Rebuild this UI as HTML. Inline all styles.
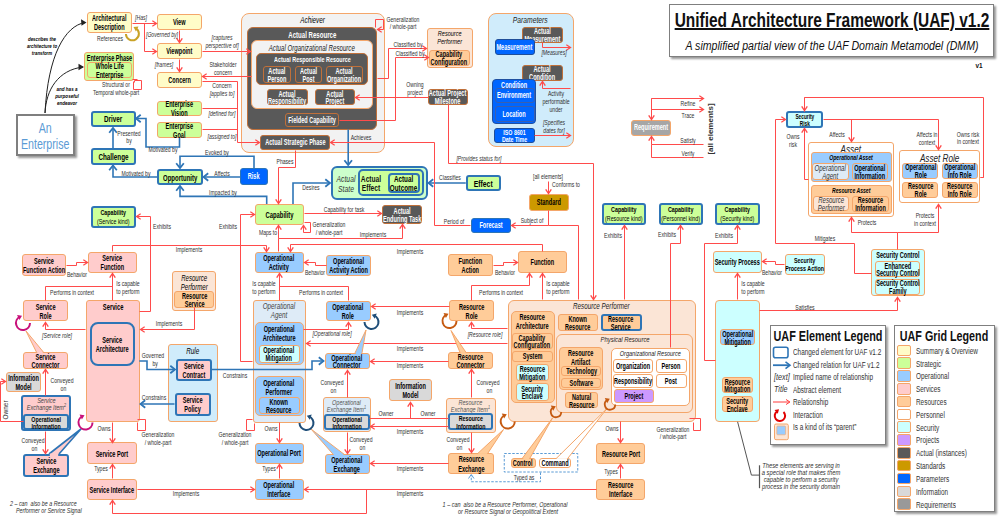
<!DOCTYPE html><html><head><meta charset="utf-8"><style>
*{margin:0;padding:0;box-sizing:border-box}
html,body{width:1002px;height:519px;overflow:hidden;background:#fff;font-family:"Liberation Sans",sans-serif}
.bx{position:absolute;display:flex;justify-content:center;text-align:center;overflow:visible}
.bx>span{display:block;white-space:nowrap;transform-origin:50% 0}
.lb{position:absolute;white-space:nowrap}
svg{position:absolute;left:0;top:0}
</style></head><body>
<div class="bx" style="left:87px;top:12px;width:45px;height:20.5px;background:#FFFCC8;border:1px solid #F4A66A;border-radius:3px;color:#000;align-items:center;"><span style="font-size:8.2px;line-height:1.1;font-weight:bold;font-style:normal;transform:scaleX(0.68);padding-top:2px">Architectural<br>Description</span></div>
<div class="bx" style="left:157px;top:14px;width:45px;height:16px;background:#FFFCC8;border:1px solid #F4A66A;border-radius:3px;color:#000;align-items:center;"><span style="font-size:8.2px;line-height:1.0;font-weight:bold;font-style:normal;transform:scaleX(0.68);padding-top:2px">View</span></div>
<div class="bx" style="left:157px;top:43px;width:45px;height:16px;background:#FFFCC8;border:1px solid #F4A66A;border-radius:3px;color:#000;align-items:center;"><span style="font-size:8.2px;line-height:1.0;font-weight:bold;font-style:normal;transform:scaleX(0.68);padding-top:2px">Viewpoint</span></div>
<div class="bx" style="left:157px;top:72px;width:45px;height:16px;background:#FFFCC8;border:1px solid #F4A66A;border-radius:3px;color:#000;align-items:center;"><span style="font-size:8.2px;line-height:1.0;font-weight:bold;font-style:normal;transform:scaleX(0.68);padding-top:2px">Concern</span></div>
<div class="bx" style="left:84px;top:52px;width:50px;height:29px;background:#CCFF99;border:1px solid #F4A66A;border-radius:3px;color:#000;align-items:flex-start;"><span style="font-size:8.2px;line-height:1.1;font-weight:bold;font-style:normal;transform:scaleX(0.68);padding-top:1px">Enterprise Phase</span></div>
<div class="bx" style="left:87px;top:62px;width:45px;height:16px;background:#CCFF99;border:1px solid #F4A66A;border-radius:3px;color:#000;align-items:center;"><span style="font-size:8.2px;line-height:1.07;font-weight:bold;font-style:normal;transform:scaleX(0.68);padding-top:3.5px">Whole Life<br>Enterprise</span></div>
<div class="bx" style="left:157px;top:101px;width:45px;height:15px;background:#CCFF99;border:1px solid #F4A66A;border-radius:3px;color:#000;align-items:center;"><span style="font-size:8.2px;line-height:1.05;font-weight:bold;font-style:normal;transform:scaleX(0.68);padding-top:3.2px">Enterprise<br>Vision</span></div>
<div class="bx" style="left:157px;top:122px;width:45px;height:16px;background:#CCFF99;border:1px solid #F4A66A;border-radius:3px;color:#000;align-items:center;"><span style="font-size:8.2px;line-height:1.05;font-weight:bold;font-style:normal;transform:scaleX(0.68);padding-top:3.2px">Enterprise<br>Goal</span></div>
<div class="bx" style="left:15.5px;top:114px;width:59px;height:42px;background:#FFFFFF;border:2px solid #7F7F7F;border-radius:0px;color:#5B9BD5;align-items:center;box-shadow:2px 2px 2px #999;"><span style="font-size:15px;line-height:1.1;font-weight:normal;font-style:normal;transform:scaleX(0.71);padding-top:2px">An<br>Enterprise</span></div>
<div class="bx" style="left:90.5px;top:110.5px;width:45px;height:16.5px;background:#CCFF99;border:2px solid #2E75B6;border-radius:3px;color:#000;align-items:center;"><span style="font-size:9px;line-height:1.0;font-weight:bold;font-style:normal;transform:scaleX(0.7);padding-top:2px">Driver</span></div>
<div class="bx" style="left:90.5px;top:148px;width:45px;height:16.5px;background:#CCFF99;border:2px solid #2E75B6;border-radius:3px;color:#000;align-items:center;"><span style="font-size:9px;line-height:1.0;font-weight:bold;font-style:normal;transform:scaleX(0.7);padding-top:2px">Challenge</span></div>
<div class="bx" style="left:157px;top:169px;width:45.5px;height:16px;background:#CCFF99;border:2px solid #2E75B6;border-radius:3px;color:#000;align-items:center;"><span style="font-size:8.8px;line-height:1.0;font-weight:bold;font-style:normal;transform:scaleX(0.68);padding-top:2px">Opportunity</span></div>
<div class="bx" style="left:240px;top:168px;width:28px;height:17px;background:#0066FF;border:1.5px solid #2E75B6;border-radius:3px;color:#fff;align-items:center;"><span style="font-size:8.2px;line-height:1.0;font-weight:bold;font-style:normal;transform:scaleX(0.68);padding-top:2px">Risk</span></div>
<div class="bx" style="left:90.5px;top:205.5px;width:45.25px;height:22px;background:#CCFF99;border:2px solid #2E75B6;border-radius:3px;color:#000;align-items:center;"><span style="font-size:7.6px;line-height:1.1;font-weight:bold;font-style:normal;transform:scaleX(0.7);padding-top:2px">Capability<br><span style="font-weight:normal">(Service kind)</span></span></div>
<div class="bx" style="left:241px;top:13px;width:144px;height:140px;background:#F2F2F2;border:1px solid #F4A66A;border-radius:8px;color:#000;align-items:flex-start;"><span style="font-size:8.5px;line-height:1.1;font-weight:normal;font-style:italic;transform:scaleX(0.74);padding-top:2px">Achiever</span></div>
<div class="bx" style="left:247px;top:27px;width:130px;height:102.5px;background:#595959;border:1px solid #C0703A;border-radius:6px;color:#fff;align-items:flex-start;"><span style="font-size:8.7px;line-height:1.1;font-weight:bold;font-style:normal;transform:scaleX(0.7);padding-top:2.8px">Actual Resource</span></div>
<div class="bx" style="left:251px;top:40px;width:121.5px;height:69px;background:#F2F2F2;border:1px solid #F4A66A;border-radius:6px;color:#222;align-items:flex-start;"><span style="font-size:8.5px;line-height:1.1;font-weight:normal;font-style:italic;transform:scaleX(0.72);padding-top:2.5px">Actual Organizational Resource</span></div>
<div class="bx" style="left:256px;top:53px;width:112px;height:31.5px;background:#595959;border:1px solid #C0703A;border-radius:5px;color:#fff;align-items:flex-start;"><span style="font-size:8px;line-height:1.1;font-weight:bold;font-style:normal;transform:scaleX(0.68);padding-top:2.3px">Actual Responsible Resource</span></div>
<div class="bx" style="left:263px;top:66px;width:27.5px;height:16.5px;background:#595959;border:1px solid #C0703A;border-radius:3px;color:#fff;align-items:center;"><span style="font-size:8.2px;line-height:0.95;font-weight:bold;font-style:normal;transform:scaleX(0.68);padding-top:2.9px">Actual<br>Person</span></div>
<div class="bx" style="left:295px;top:66px;width:27px;height:16.5px;background:#595959;border:1px solid #C0703A;border-radius:3px;color:#fff;align-items:center;"><span style="font-size:8.2px;line-height:0.95;font-weight:bold;font-style:normal;transform:scaleX(0.68);padding-top:2.9px">Actual<br>Post</span></div>
<div class="bx" style="left:326px;top:66px;width:37px;height:16.5px;background:#595959;border:1px solid #C0703A;border-radius:3px;color:#fff;align-items:center;"><span style="font-size:8.2px;line-height:0.95;font-weight:bold;font-style:normal;transform:scaleX(0.68);padding-top:2.9px">Actual<br>Organization</span></div>
<div class="bx" style="left:267px;top:89px;width:40.5px;height:16px;background:#595959;border:1px solid #C0703A;border-radius:3px;color:#fff;align-items:center;"><span style="font-size:8.2px;line-height:0.95;font-weight:bold;font-style:normal;transform:scaleX(0.68);padding-top:2.9px">Actual<br>Responsibility</span></div>
<div class="bx" style="left:314.5px;top:89px;width:40.5px;height:16px;background:#595959;border:1px solid #C0703A;border-radius:3px;color:#fff;align-items:center;"><span style="font-size:8.2px;line-height:0.95;font-weight:bold;font-style:normal;transform:scaleX(0.68);padding-top:2.9px">Actual<br>Project</span></div>
<div class="bx" style="left:284.5px;top:112.5px;width:54.5px;height:14.5px;background:#595959;border:1px solid #C0703A;border-radius:3px;color:#fff;align-items:center;"><span style="font-size:8.2px;line-height:1.0;font-weight:bold;font-style:normal;transform:scaleX(0.68);padding-top:2px">Fielded Capability</span></div>
<div class="bx" style="left:260px;top:135px;width:70px;height:15px;background:#595959;border:1px solid #C0703A;border-radius:3px;color:#fff;align-items:center;"><span style="font-size:8.2px;line-height:1.0;font-weight:bold;font-style:normal;transform:scaleX(0.68);padding-top:2px">Actual Strategic Phase</span></div>
<div class="bx" style="left:427px;top:28px;width:45.5px;height:39.5px;background:#FBE5D6;border:1px solid #F4A66A;border-radius:3px;color:#000;align-items:flex-start;"><span style="font-size:7.5px;line-height:1.1;font-weight:normal;font-style:italic;transform:scaleX(0.74);padding-top:1px">Resource<br>Performer</span></div>
<div class="bx" style="left:429px;top:49.5px;width:40.5px;height:16px;background:#FFCC99;border:1px solid #F4A66A;border-radius:3px;color:#000;align-items:center;"><span style="font-size:8.2px;line-height:0.95;font-weight:bold;font-style:normal;transform:scaleX(0.68);padding-top:2.9px">Capability<br>Configuration</span></div>
<div class="bx" style="left:428px;top:89px;width:40px;height:15.5px;background:#595959;border:1px solid #C0703A;border-radius:3px;color:#fff;align-items:center;"><span style="font-size:8.2px;line-height:0.95;font-weight:bold;font-style:normal;transform:scaleX(0.68);padding-top:2.9px">Actual Project<br>Milestone</span></div>
<div class="bx" style="left:487.5px;top:13px;width:86.5px;height:134px;background:#D0ECFB;border:1px solid #F4A66A;border-radius:8px;color:#222;align-items:flex-start;"><span style="font-size:9px;line-height:1.1;font-weight:normal;font-style:italic;transform:scaleX(0.75);padding-top:2.3px">Parameters</span></div>
<div class="bx" style="left:522px;top:27px;width:40.5px;height:15.5px;background:#595959;border:1px solid #C0703A;border-radius:3px;color:#fff;align-items:center;"><span style="font-size:8.2px;line-height:0.95;font-weight:bold;font-style:normal;transform:scaleX(0.68);padding-top:2.9px">Actual<br>Measurement</span></div>
<div class="bx" style="left:494.5px;top:39px;width:40px;height:16px;background:#0066FF;border:1px solid #1F4E99;border-radius:3px;color:#fff;align-items:center;"><span style="font-size:8.2px;line-height:1.0;font-weight:bold;font-style:normal;transform:scaleX(0.68);padding-top:2px">Measurement</span></div>
<div class="bx" style="left:522px;top:64.5px;width:40.5px;height:16px;background:#595959;border:1px solid #C0703A;border-radius:3px;color:#fff;align-items:center;"><span style="font-size:8.2px;line-height:0.95;font-weight:bold;font-style:normal;transform:scaleX(0.68);padding-top:2.9px">Actual<br>Condition</span></div>
<div class="bx" style="left:492px;top:79px;width:44px;height:45px;background:#0066FF;border:1.5px solid #2050A0;border-radius:4px;color:#fff;align-items:flex-start;"><span style="font-size:8.2px;line-height:1.1;font-weight:bold;font-style:normal;transform:scaleX(0.68);padding-top:1px">Condition</span></div>
<div class="bx" style="left:494.5px;top:87.5px;width:40px;height:15.5px;background:#0066FF;border:1px solid #3A5FAF;border-radius:3px;color:#fff;align-items:center;"><span style="font-size:8.2px;line-height:1.0;font-weight:bold;font-style:normal;transform:scaleX(0.68);padding-top:2px">Environment</span></div>
<div class="bx" style="left:494.5px;top:106px;width:40px;height:16px;background:#0066FF;border:1px solid #3A5FAF;border-radius:3px;color:#fff;align-items:center;"><span style="font-size:8.2px;line-height:1.0;font-weight:bold;font-style:normal;transform:scaleX(0.68);padding-top:2px">Location</span></div>
<div class="bx" style="left:493.75px;top:127.5px;width:40.75px;height:15.75px;background:#0066FF;border:1px solid #1F4E99;border-radius:3px;color:#fff;align-items:center;"><span style="font-size:7.8px;line-height:0.95;font-weight:bold;font-style:normal;transform:scaleX(0.68);padding-top:2px">ISO 8601<br>Date Time</span></div>
<div class="bx" style="left:631px;top:119.5px;width:40px;height:16px;background:#A6A6A6;border:1px solid #F4A66A;border-radius:3px;color:#fff;align-items:center;"><span style="font-size:8.2px;line-height:1.0;font-weight:bold;font-style:normal;transform:scaleX(0.68);padding-top:2px">Requirement</span></div>
<div class="bx" style="left:786px;top:111px;width:37px;height:17px;background:#CCFFFF;border:2px solid #2E75B6;border-radius:3px;color:#000;align-items:center;"><span style="font-size:7px;line-height:0.95;font-weight:bold;font-style:normal;transform:scaleX(0.68);padding-top:2.9px">Security<br>Risk</span></div>
<div class="bx" style="left:808.4px;top:141.7px;width:85.6px;height:74.9px;background:#FFFFFF;border:1px solid #F4A66A;border-radius:3px;color:#222;align-items:flex-start;"><span style="font-size:11px;line-height:1.1;font-weight:normal;font-style:italic;transform:scaleX(0.74);padding-top:0.8px">Asset</span></div>
<div class="bx" style="left:811px;top:152.4px;width:80.6px;height:29.3px;background:#99CCFF;border:1px solid #F4A66A;border-radius:3px;color:#000;align-items:flex-start;"><span style="font-size:7.5px;line-height:1.1;font-weight:bold;font-style:italic;transform:scaleX(0.68);padding-top:1px">Operational Asset</span></div>
<div class="bx" style="left:812.4px;top:163px;width:36.4px;height:16.6px;background:#DEEBF7;border:1px solid #F4A66A;border-radius:3px;color:#333;align-items:center;"><span style="font-size:8.2px;line-height:0.95;font-weight:normal;font-style:italic;transform:scaleX(0.74);padding-top:2.9px">Operational<br>Agent</span></div>
<div class="bx" style="left:851.5px;top:163px;width:36.5px;height:17px;background:#99CCFF;border:1px solid #F4A66A;border-radius:3px;color:#000;align-items:center;"><span style="font-size:8.2px;line-height:0.95;font-weight:bold;font-style:normal;transform:scaleX(0.68);padding-top:2.9px">Operational<br>Information</span></div>
<div class="bx" style="left:811px;top:184.8px;width:80.6px;height:29.2px;background:#FFCC99;border:1px solid #F4A66A;border-radius:3px;color:#000;align-items:flex-start;"><span style="font-size:7.5px;line-height:1.1;font-weight:bold;font-style:italic;transform:scaleX(0.68);padding-top:1px">Resource Asset</span></div>
<div class="bx" style="left:813px;top:195.6px;width:36.4px;height:15.4px;background:#FBE5D6;border:1px solid #F4A66A;border-radius:3px;color:#333;align-items:center;"><span style="font-size:8.2px;line-height:0.95;font-weight:normal;font-style:italic;transform:scaleX(0.74);padding-top:2.9px">Resource<br>Performer</span></div>
<div class="bx" style="left:851.9px;top:195.6px;width:37px;height:16.4px;background:#FFCC99;border:1px solid #F4A66A;border-radius:3px;color:#000;align-items:center;"><span style="font-size:8.2px;line-height:0.95;font-weight:bold;font-style:normal;transform:scaleX(0.68);padding-top:2.9px">Resource<br>Information</span></div>
<div class="bx" style="left:899.3px;top:150.3px;width:81.1px;height:53px;background:#FFFFFF;border:1px solid #F4A66A;border-radius:3px;color:#222;align-items:flex-start;"><span style="font-size:11px;line-height:1.1;font-weight:normal;font-style:italic;transform:scaleX(0.74);padding-top:0.5px">Asset Role</span></div>
<div class="bx" style="left:902.4px;top:162.6px;width:35.8px;height:16px;background:#99CCFF;border:1px solid #F4A66A;border-radius:3px;color:#000;align-items:center;"><span style="font-size:8.2px;line-height:0.95;font-weight:bold;font-style:normal;transform:scaleX(0.68);padding-top:2.9px">Operational<br>Role</span></div>
<div class="bx" style="left:942px;top:162.6px;width:36px;height:16px;background:#99CCFF;border:1px solid #F4A66A;border-radius:3px;color:#000;align-items:center;"><span style="font-size:8.2px;line-height:0.95;font-weight:bold;font-style:normal;transform:scaleX(0.68);padding-top:2.9px">Operational<br>Info Role</span></div>
<div class="bx" style="left:902.4px;top:181.7px;width:35.8px;height:16.1px;background:#FFCC99;border:1px solid #F4A66A;border-radius:3px;color:#000;align-items:center;"><span style="font-size:8.2px;line-height:0.95;font-weight:bold;font-style:normal;transform:scaleX(0.68);padding-top:2.9px">Resource<br>Role</span></div>
<div class="bx" style="left:942px;top:181.7px;width:36px;height:16.1px;background:#FFCC99;border:1px solid #F4A66A;border-radius:3px;color:#000;align-items:center;"><span style="font-size:8.2px;line-height:0.95;font-weight:bold;font-style:normal;transform:scaleX(0.68);padding-top:2.9px">Resource<br>Info Role</span></div>
<div class="bx" style="left:331px;top:165.75px;width:96.5px;height:33.75px;background:#CCFFCC;border:2px solid #2E75B6;border-radius:6px;color:#000;align-items:center;"><span style="font-size:8.2px;line-height:1.1;font-weight:bold;font-style:normal;transform:scaleX(0.68);padding-top:2px"></span></div>
<div class="bx" style="left:357.5px;top:168.75px;width:66.25px;height:26.75px;background:#CCFF99;border:2px solid #2E75B6;border-radius:5px;color:#000;align-items:center;"><span style="font-size:8.2px;line-height:1.1;font-weight:bold;font-style:normal;transform:scaleX(0.68);padding-top:2px"></span></div>
<div class="bx" style="left:387.5px;top:173px;width:32px;height:20px;background:#CCFF99;border:2px solid #2E75B6;border-radius:4px;color:#000;align-items:center;"><span style="font-size:9px;line-height:1.0;font-weight:bold;font-style:normal;transform:scaleX(0.7);padding-top:2.5px">Actual<br>Outcome</span></div>
<div class="bx" style="left:465.75px;top:174.5px;width:35.5px;height:16.75px;background:#CCFF99;border:2px solid #2E75B6;border-radius:3px;color:#000;align-items:center;"><span style="font-size:9.5px;line-height:1.0;font-weight:bold;font-style:normal;transform:scaleX(0.72);padding-top:2px">Effect</span></div>
<div class="bx" style="left:528.75px;top:194.25px;width:40px;height:16.25px;background:#CC9900;border:1px solid #F4A66A;border-radius:3px;color:#000;align-items:center;"><span style="font-size:8.2px;line-height:1.0;font-weight:bold;font-style:normal;transform:scaleX(0.68);padding-top:2px">Standard</span></div>
<div class="bx" style="left:470.75px;top:217.5px;width:39.75px;height:15.75px;background:#0066FF;border:1px solid #2E75B6;border-radius:3px;color:#fff;align-items:center;"><span style="font-size:8.2px;line-height:1.0;font-weight:bold;font-style:normal;transform:scaleX(0.68);padding-top:2px">Forecast</span></div>
<div class="bx" style="left:254.5px;top:203.5px;width:49.5px;height:21.5px;background:#CCFF99;border:1px solid #F4A66A;border-radius:3px;color:#000;align-items:center;"><span style="font-size:8.6px;line-height:1.1;font-weight:bold;font-style:normal;transform:scaleX(0.68);padding-top:2px">Capability</span></div>
<div class="bx" style="left:382px;top:204.6px;width:40.1px;height:19.3px;background:#595959;border:1px solid #C0703A;border-radius:3px;color:#fff;align-items:center;"><span style="font-size:8.2px;line-height:1.0;font-weight:bold;font-style:normal;transform:scaleX(0.68);padding-top:3.2px">Actual<br>Enduring Task</span></div>
<div class="bx" style="left:601.75px;top:202.5px;width:44.5px;height:22px;background:#CCFF99;border:2px solid #2E75B6;border-radius:3px;color:#000;align-items:center;"><span style="font-size:7.6px;line-height:1.1;font-weight:bold;font-style:normal;transform:scaleX(0.7);padding-top:2px">Capability<br><span style="font-weight:normal">(Resource kind)</span></span></div>
<div class="bx" style="left:658.75px;top:202.5px;width:44.25px;height:22px;background:#CCFF99;border:2px solid #2E75B6;border-radius:3px;color:#000;align-items:center;"><span style="font-size:7.6px;line-height:1.1;font-weight:bold;font-style:normal;transform:scaleX(0.7);padding-top:2px">Capability<br><span style="font-weight:normal">(Personnel kind)</span></span></div>
<div class="bx" style="left:715px;top:202.5px;width:44.5px;height:22px;background:#CCFF99;border:2px solid #2E75B6;border-radius:3px;color:#000;align-items:center;"><span style="font-size:7.6px;line-height:1.1;font-weight:bold;font-style:normal;transform:scaleX(0.7);padding-top:2px">Capability<br><span style="font-weight:normal">(Security kind)</span></span></div>
<div class="bx" style="left:712.5px;top:251.25px;width:49.5px;height:21.25px;background:#CCFFFF;border:1px solid #F4A66A;border-radius:3px;color:#000;align-items:center;"><span style="font-size:8.2px;line-height:1.1;font-weight:bold;font-style:normal;transform:scaleX(0.68);padding-top:2px">Security Process</span></div>
<div class="bx" style="left:784.5px;top:253.75px;width:40px;height:21.25px;background:#CCFFFF;border:1px solid #F4A66A;border-radius:3px;color:#000;align-items:center;"><span style="font-size:7.9px;line-height:1.1;font-weight:bold;font-style:normal;transform:scaleX(0.68);padding-top:2px">Security<br>Process Action</span></div>
<div class="bx" style="left:871.25px;top:249.25px;width:53.25px;height:47px;background:#CCFFFF;border:1px solid #F4A66A;border-radius:3px;color:#000;align-items:flex-start;"><span style="font-size:8.2px;line-height:1.1;font-weight:bold;font-style:normal;transform:scaleX(0.68);padding-top:0.5px">Security Control</span></div>
<div class="bx" style="left:875px;top:261.25px;width:45.25px;height:15.5px;background:#CCFFFF;border:1px solid #F4A66A;border-radius:3px;color:#000;align-items:center;"><span style="font-size:8.2px;line-height:0.95;font-weight:bold;font-style:normal;transform:scaleX(0.68);padding-top:2.9px">Enhanced<br>Security Control</span></div>
<div class="bx" style="left:875px;top:278.75px;width:45.25px;height:15.75px;background:#CCFFFF;border:1px solid #F4A66A;border-radius:3px;color:#000;align-items:center;"><span style="font-size:8.2px;line-height:0.95;font-weight:bold;font-style:normal;transform:scaleX(0.68);padding-top:2.9px">Security Control<br>Family</span></div>
<div class="bx" style="left:21.75px;top:254.25px;width:44.5px;height:21.25px;background:#FFCCCC;border:1px solid #F4A66A;border-radius:3px;color:#000;align-items:center;"><span style="font-size:8.2px;line-height:1.1;font-weight:bold;font-style:normal;transform:scaleX(0.68);padding-top:2px">Service<br>Function Action</span></div>
<div class="bx" style="left:87.5px;top:251.75px;width:49.5px;height:21.25px;background:#FFCCCC;border:1px solid #F4A66A;border-radius:3px;color:#000;align-items:center;"><span style="font-size:8.2px;line-height:1.1;font-weight:bold;font-style:normal;transform:scaleX(0.68);padding-top:2px">Service<br>Function</span></div>
<div class="bx" style="left:23px;top:300px;width:44.5px;height:21.25px;background:#FFCCCC;border:1px solid #F4A66A;border-radius:3px;color:#000;align-items:center;"><span style="font-size:8.2px;line-height:1.1;font-weight:bold;font-style:normal;transform:scaleX(0.68);padding-top:2px">Service<br>Role</span></div>
<div class="bx" style="left:86px;top:300px;width:54px;height:122px;background:#FFCCCC;border:1px solid #F4A66A;border-radius:3px;color:#000;align-items:flex-start;"><span style="font-size:8.5px;line-height:1.1;font-weight:bold;font-style:normal;transform:scaleX(0.68);padding-top:1.5px">Service</span></div>
<div class="bx" style="left:90px;top:322px;width:45px;height:43.5px;background:#FFCCCC;border:2px solid #2E75B6;border-radius:8px;color:#000;align-items:center;"><span style="font-size:8.2px;line-height:1.1;font-weight:bold;font-style:normal;transform:scaleX(0.68);padding-top:2px">Service<br>Architecture</span></div>
<div class="bx" style="left:172px;top:270.5px;width:44.25px;height:40px;background:#FBE5D6;border:1px solid #F4A66A;border-radius:3px;color:#000;align-items:flex-start;"><span style="font-size:8.2px;line-height:1.1;font-weight:normal;font-style:italic;transform:scaleX(0.74);padding-top:2px">Resource<br>Performer</span></div>
<div class="bx" style="left:174.25px;top:291.25px;width:40px;height:16.25px;background:#FFCC99;border:1px solid #F4A66A;border-radius:3px;color:#000;align-items:center;"><span style="font-size:8.2px;line-height:0.95;font-weight:bold;font-style:normal;transform:scaleX(0.68);padding-top:2.9px">Resource<br>Service</span></div>
<div class="bx" style="left:23.25px;top:351.75px;width:45px;height:17px;background:#FFCCCC;border:1px solid #F4A66A;border-radius:3px;color:#000;align-items:center;"><span style="font-size:8.2px;line-height:0.95;font-weight:bold;font-style:normal;transform:scaleX(0.68);padding-top:2.9px">Service<br>Connector</span></div>
<div class="bx" style="left:6.25px;top:372px;width:35px;height:20px;background:#D9D9D9;border:1px solid #F4A66A;border-radius:3px;color:#000;align-items:center;"><span style="font-size:8.2px;line-height:1.1;font-weight:bold;font-style:normal;transform:scaleX(0.68);padding-top:2px">Information<br>Model</span></div>
<div class="bx" style="left:21.25px;top:395px;width:50px;height:36.2px;background:#FFCCCC;border:2px solid #2E75B6;border-radius:3px;color:#444;align-items:flex-start;"><span style="font-size:7.5px;line-height:0.95;font-weight:normal;font-style:italic;transform:scaleX(0.74);padding-top:0px">Service<br>Exchange Item<span style="font-size:5px;position:relative;top:-3px">2</span></span></div>
<div class="bx" style="left:23.2px;top:413.7px;width:45.9px;height:16.3px;background:#D9D9D9;border:2px solid #2E75B6;border-radius:3px;color:#000;align-items:center;"><span style="font-size:7.6px;line-height:0.95;font-weight:bold;font-style:normal;transform:scaleX(0.7);padding-top:1.9px">Operational<br>Information</span></div>
<div class="bx" style="left:23.2px;top:453.6px;width:45.4px;height:23.2px;background:#FFCCCC;border:2px solid #2E75B6;border-radius:3px;color:#000;align-items:center;"><span style="font-size:8.2px;line-height:1.1;font-weight:bold;font-style:normal;transform:scaleX(0.68);padding-top:2px">Service<br>Exchange</span></div>
<div class="bx" style="left:87.3px;top:442.4px;width:49.9px;height:21.7px;background:#FFCCCC;border:1px solid #F4A66A;border-radius:3px;color:#000;align-items:center;"><span style="font-size:8.2px;line-height:1.1;font-weight:bold;font-style:normal;transform:scaleX(0.68);padding-top:2px">Service Port</span></div>
<div class="bx" style="left:87.3px;top:478.6px;width:49.9px;height:21.2px;background:#FFCCCC;border:1px solid #F4A66A;border-radius:3px;color:#000;align-items:center;"><span style="font-size:8.2px;line-height:1.1;font-weight:bold;font-style:normal;transform:scaleX(0.68);padding-top:2px">Service Interface</span></div>
<div class="bx" style="left:168px;top:343.75px;width:50px;height:78px;background:#D0ECFB;border:1px solid #F4A66A;border-radius:3px;color:#000;align-items:flex-start;"><span style="font-size:8.5px;line-height:1.1;font-weight:normal;font-style:italic;transform:scaleX(0.74);padding-top:2px">Rule</span></div>
<div class="bx" style="left:175.5px;top:358.75px;width:36.5px;height:21.75px;background:#FFCCCC;border:2px solid #2E75B6;border-radius:3px;color:#000;align-items:center;"><span style="font-size:8.2px;line-height:1.1;font-weight:bold;font-style:normal;transform:scaleX(0.68);padding-top:2px">Service<br>Contract</span></div>
<div class="bx" style="left:174.5px;top:393.25px;width:36.75px;height:22.25px;background:#FFCCCC;border:2px solid #2E75B6;border-radius:3px;color:#000;align-items:center;"><span style="font-size:8.2px;line-height:1.1;font-weight:bold;font-style:normal;transform:scaleX(0.68);padding-top:2px">Service<br>Policy</span></div>
<div class="bx" style="left:254.5px;top:251.75px;width:49.25px;height:20.75px;background:#99CCFF;border:1px solid #F4A66A;border-radius:3px;color:#000;align-items:center;"><span style="font-size:8.2px;line-height:1.1;font-weight:bold;font-style:normal;transform:scaleX(0.68);padding-top:2px">Operational<br>Activity</span></div>
<div class="bx" style="left:326.4px;top:254.5px;width:44.3px;height:21.1px;background:#99CCFF;border:1px solid #F4A66A;border-radius:3px;color:#000;align-items:center;"><span style="font-size:8.2px;line-height:1.1;font-weight:bold;font-style:normal;transform:scaleX(0.68);padding-top:2px">Operational<br>Activity Action</span></div>
<div class="bx" style="left:252.5px;top:300px;width:53.75px;height:122.5px;background:#DEEBF7;border:1px solid #F4A66A;border-radius:3px;color:#444;align-items:flex-start;"><span style="font-size:8.5px;line-height:1.1;font-weight:normal;font-style:italic;transform:scaleX(0.74);padding-top:1px">Operational<br>Agent</span></div>
<div class="bx" style="left:254.5px;top:322px;width:49.25px;height:42.5px;background:#99CCFF;border:1px solid #F4A66A;border-radius:5px;color:#000;align-items:flex-start;"><span style="font-size:8.2px;line-height:1.1;font-weight:bold;font-style:normal;transform:scaleX(0.68);padding-top:2px">Operational<br>Architecture</span></div>
<div class="bx" style="left:258.75px;top:345px;width:40.75px;height:17.5px;background:#CCFFFF;border:1px solid #F4A66A;border-radius:3px;color:#000;align-items:center;"><span style="font-size:8.2px;line-height:0.95;font-weight:bold;font-style:normal;transform:scaleX(0.68);padding-top:2.9px">Operational<br>Mitigation</span></div>
<div class="bx" style="left:254.5px;top:376.25px;width:49.25px;height:39.5px;background:#99CCFF;border:1px solid #F4A66A;border-radius:5px;color:#000;align-items:flex-start;"><span style="font-size:8.2px;line-height:1.1;font-weight:bold;font-style:normal;transform:scaleX(0.68);padding-top:2px">Operational<br>Performer</span></div>
<div class="bx" style="left:258.75px;top:397px;width:40.75px;height:16.75px;background:#99CCFF;border:1px solid #F4A66A;border-radius:3px;color:#000;align-items:center;"><span style="font-size:8.2px;line-height:0.95;font-weight:bold;font-style:normal;transform:scaleX(0.68);padding-top:2.9px">Known<br>Resource</span></div>
<div class="bx" style="left:325.5px;top:300.5px;width:45px;height:20.75px;background:#99CCFF;border:1px solid #F4A66A;border-radius:3px;color:#000;align-items:center;"><span style="font-size:8.2px;line-height:1.1;font-weight:bold;font-style:normal;transform:scaleX(0.68);padding-top:2px">Operational<br>Role</span></div>
<div class="bx" style="left:324.5px;top:352.5px;width:45px;height:16.75px;background:#99CCFF;border:1px solid #F4A66A;border-radius:3px;color:#000;align-items:center;"><span style="font-size:8.2px;line-height:0.95;font-weight:bold;font-style:normal;transform:scaleX(0.68);padding-top:2.9px">Operational<br>Connector</span></div>
<div class="bx" style="left:322.5px;top:397px;width:48.75px;height:35px;background:#DEEBF7;border:1px solid #F4A66A;border-radius:3px;color:#555;align-items:flex-start;"><span style="font-size:7.5px;line-height:0.95;font-weight:normal;font-style:italic;transform:scaleX(0.74);padding-top:0.5px">Operational<br>Exchange Item<span style="font-size:5px;position:relative;top:-3px">1</span></span></div>
<div class="bx" style="left:324.25px;top:413.75px;width:45.25px;height:16.25px;background:#D9D9D9;border:2px solid #2E75B6;border-radius:3px;color:#000;align-items:center;"><span style="font-size:7.6px;line-height:0.95;font-weight:bold;font-style:normal;transform:scaleX(0.7);padding-top:1.9px">Operational<br>Information</span></div>
<div class="bx" style="left:388.75px;top:379.25px;width:43.25px;height:22px;background:#D9D9D9;border:1px solid #F4A66A;border-radius:3px;color:#000;align-items:center;"><span style="font-size:8.2px;line-height:1.1;font-weight:bold;font-style:normal;transform:scaleX(0.68);padding-top:2px">Information<br>Model</span></div>
<div class="bx" style="left:254.5px;top:442.5px;width:49.25px;height:21px;background:#99CCFF;border:1px solid #F4A66A;border-radius:3px;color:#000;align-items:center;"><span style="font-size:8.2px;line-height:1.1;font-weight:bold;font-style:normal;transform:scaleX(0.68);padding-top:2px">Operational Port</span></div>
<div class="bx" style="left:324.5px;top:453.75px;width:45px;height:20.25px;background:#99CCFF;border:1px solid #F4A66A;border-radius:3px;color:#000;align-items:center;"><span style="font-size:8.2px;line-height:1.1;font-weight:bold;font-style:normal;transform:scaleX(0.68);padding-top:2px">Operational<br>Exchange</span></div>
<div class="bx" style="left:254.5px;top:478.6px;width:49px;height:21.2px;background:#99CCFF;border:1px solid #F4A66A;border-radius:3px;color:#000;align-items:center;"><span style="font-size:8.2px;line-height:1.1;font-weight:bold;font-style:normal;transform:scaleX(0.68);padding-top:2px">Operational<br>Interface</span></div>
<div class="bx" style="left:448px;top:254.25px;width:45.25px;height:21.25px;background:#FFCC99;border:1px solid #F4A66A;border-radius:3px;color:#000;align-items:center;"><span style="font-size:8.2px;line-height:1.1;font-weight:bold;font-style:normal;transform:scaleX(0.68);padding-top:2px">Function<br>Action</span></div>
<div class="bx" style="left:517.5px;top:251.25px;width:49.5px;height:21.25px;background:#FFCC99;border:1px solid #F4A66A;border-radius:3px;color:#000;align-items:center;"><span style="font-size:8.2px;line-height:1.1;font-weight:bold;font-style:normal;transform:scaleX(0.68);padding-top:2px">Function</span></div>
<div class="bx" style="left:449.25px;top:300px;width:45px;height:21.25px;background:#FFCC99;border:1px solid #F4A66A;border-radius:3px;color:#000;align-items:center;"><span style="font-size:8.2px;line-height:1.1;font-weight:bold;font-style:normal;transform:scaleX(0.68);padding-top:2px">Resource<br>Role</span></div>
<div class="bx" style="left:448.25px;top:352px;width:45px;height:16.75px;background:#FFCC99;border:1px solid #F4A66A;border-radius:3px;color:#000;align-items:center;"><span style="font-size:8.2px;line-height:0.95;font-weight:bold;font-style:normal;transform:scaleX(0.68);padding-top:2.9px">Resource<br>Connector</span></div>
<div class="bx" style="left:446.25px;top:397.5px;width:49.25px;height:35px;background:#FBE5D6;border:1px solid #F4A66A;border-radius:3px;color:#555;align-items:flex-start;"><span style="font-size:7.5px;line-height:0.95;font-weight:normal;font-style:italic;transform:scaleX(0.74);padding-top:0.5px">Resource<br>Exchange Item<span style="font-size:5px;position:relative;top:-3px">1</span></span></div>
<div class="bx" style="left:448px;top:413.25px;width:45.25px;height:16.75px;background:#D9D9D9;border:2px solid #2E75B6;border-radius:3px;color:#000;align-items:center;"><span style="font-size:7.6px;line-height:0.95;font-weight:bold;font-style:normal;transform:scaleX(0.7);padding-top:1.9px">Resource<br>Information</span></div>
<div class="bx" style="left:448.25px;top:453.25px;width:46px;height:20.5px;background:#FFCC99;border:1px solid #F4A66A;border-radius:3px;color:#000;align-items:center;"><span style="font-size:8.2px;line-height:1.1;font-weight:bold;font-style:normal;transform:scaleX(0.68);padding-top:2px">Resource<br>Exchange</span></div>
<div class="bx" style="left:507.5px;top:299.5px;width:188px;height:122.25px;background:#FBE5D6;border:1px solid #F4A66A;border-radius:6px;color:#222;align-items:flex-start;"><span style="font-size:8.5px;line-height:1.1;font-weight:normal;font-style:italic;transform:scaleX(0.74);padding-top:1px">Resource Performer</span></div>
<div class="bx" style="left:510.5px;top:310.5px;width:44px;height:92px;background:#FFCC99;border:1px solid #F4A66A;border-radius:5px;color:#000;align-items:flex-start;"><span style="font-size:8.2px;line-height:1.1;font-weight:bold;font-style:normal;transform:scaleX(0.68);padding-top:1px">Resource<br>Architecture</span></div>
<div class="bx" style="left:512px;top:332.5px;width:40.5px;height:16.75px;background:#FFCC99;border:1px solid #F4A66A;border-radius:3px;color:#000;align-items:center;"><span style="font-size:8.2px;line-height:0.95;font-weight:bold;font-style:normal;transform:scaleX(0.68);padding-top:2.9px">Capability<br>Configuration</span></div>
<div class="bx" style="left:512px;top:351.25px;width:40.5px;height:10.5px;background:#FFCC99;border:1px solid #F4A66A;border-radius:3px;color:#000;align-items:center;"><span style="font-size:8.2px;line-height:1.0;font-weight:bold;font-style:normal;transform:scaleX(0.68);padding-top:2px">System</span></div>
<div class="bx" style="left:515.5px;top:364.25px;width:33.25px;height:17px;background:#CCFFFF;border:1px solid #F4A66A;border-radius:3px;color:#000;align-items:center;"><span style="font-size:8.2px;line-height:0.95;font-weight:bold;font-style:normal;transform:scaleX(0.68);padding-top:2.9px">Resource<br>Mitigation</span></div>
<div class="bx" style="left:515.5px;top:383.25px;width:33.25px;height:17.25px;background:#CCFFFF;border:1px solid #F4A66A;border-radius:3px;color:#000;align-items:center;"><span style="font-size:8.2px;line-height:0.95;font-weight:bold;font-style:normal;transform:scaleX(0.68);padding-top:2.9px">Security<br>Enclave</span></div>
<div class="bx" style="left:557.5px;top:313.75px;width:40.5px;height:16.75px;background:#FFCC99;border:1px solid #F4A66A;border-radius:3px;color:#000;align-items:center;"><span style="font-size:8.2px;line-height:0.95;font-weight:bold;font-style:normal;transform:scaleX(0.68);padding-top:2.9px">Known<br>Resource</span></div>
<div class="bx" style="left:600.5px;top:313.75px;width:41.25px;height:16.75px;background:#FFCC99;border:2px solid #2E75B6;border-radius:3px;color:#000;align-items:center;"><span style="font-size:8.2px;line-height:0.95;font-weight:bold;font-style:normal;transform:scaleX(0.68);padding-top:2.9px">Resource<br>Service</span></div>
<div class="bx" style="left:556.25px;top:334.25px;width:136.75px;height:78.75px;background:#FBE5D6;border:1px solid #F4A66A;border-radius:6px;color:#222;align-items:flex-start;"><span style="font-size:8px;line-height:1.1;font-weight:normal;font-style:italic;transform:scaleX(0.74);padding-top:1px">Physical Resource</span></div>
<div class="bx" style="left:559.25px;top:347px;width:43.75px;height:43px;background:#FFCC99;border:1px solid #F4A66A;border-radius:4px;color:#000;align-items:flex-start;"><span style="font-size:8.2px;line-height:1.1;font-weight:bold;font-style:normal;transform:scaleX(0.68);padding-top:1px">Resource<br>Artifact</span></div>
<div class="bx" style="left:561.25px;top:365.75px;width:40px;height:10.5px;background:#FFCC99;border:1px solid #F4A66A;border-radius:3px;color:#000;align-items:center;"><span style="font-size:8.2px;line-height:1.0;font-weight:bold;font-style:normal;transform:scaleX(0.68);padding-top:2px">Technology</span></div>
<div class="bx" style="left:561.25px;top:377.5px;width:40px;height:10.5px;background:#FFCC99;border:1px solid #F4A66A;border-radius:3px;color:#000;align-items:center;"><span style="font-size:8.2px;line-height:1.0;font-weight:bold;font-style:normal;transform:scaleX(0.68);padding-top:2px">Software</span></div>
<div class="bx" style="left:565px;top:392px;width:32.5px;height:16.25px;background:#FFCC99;border:1px solid #F4A66A;border-radius:3px;color:#000;align-items:center;"><span style="font-size:8.2px;line-height:0.95;font-weight:bold;font-style:normal;transform:scaleX(0.68);padding-top:2.9px">Natural<br>Resource</span></div>
<div class="bx" style="left:610.5px;top:347.5px;width:79px;height:58px;background:#FFFFFF;border:1px solid #F4A66A;border-radius:5px;color:#222;align-items:flex-start;"><span style="font-size:7.5px;line-height:1.1;font-weight:normal;font-style:italic;transform:scaleX(0.74);padding-top:1px">Organizational Resource</span></div>
<div class="bx" style="left:613px;top:358.75px;width:40px;height:13.75px;background:#FFFFFF;border:1px solid #F4A66A;border-radius:3px;color:#000;align-items:center;"><span style="font-size:8.2px;line-height:1.0;font-weight:bold;font-style:normal;transform:scaleX(0.68);padding-top:2px">Organization</span></div>
<div class="bx" style="left:655.5px;top:358.75px;width:31.5px;height:13.75px;background:#FFFFFF;border:1px solid #F4A66A;border-radius:3px;color:#000;align-items:center;"><span style="font-size:8.2px;line-height:1.0;font-weight:bold;font-style:normal;transform:scaleX(0.68);padding-top:2px">Person</span></div>
<div class="bx" style="left:613px;top:374.25px;width:40px;height:13.75px;background:#FFFFFF;border:1px solid #F4A66A;border-radius:3px;color:#000;align-items:center;"><span style="font-size:8.2px;line-height:1.0;font-weight:bold;font-style:normal;transform:scaleX(0.68);padding-top:2px">Responsibility</span></div>
<div class="bx" style="left:655.5px;top:374.25px;width:31.5px;height:13.75px;background:#FFFFFF;border:1px solid #F4A66A;border-radius:3px;color:#000;align-items:center;"><span style="font-size:8.2px;line-height:1.0;font-weight:bold;font-style:normal;transform:scaleX(0.68);padding-top:2px">Post</span></div>
<div class="bx" style="left:613.75px;top:389.25px;width:40px;height:13.75px;background:#CC99FF;border:1px solid #F4A66A;border-radius:3px;color:#000;align-items:center;"><span style="font-size:8.2px;line-height:1.0;font-weight:bold;font-style:normal;transform:scaleX(0.68);padding-top:2px">Project</span></div>
<div class="bx" style="left:510.5px;top:457.5px;width:25px;height:10.75px;background:#FFCC99;border:1px solid #F4A66A;border-radius:3px;color:#000;align-items:center;"><span style="font-size:8.2px;line-height:1.0;font-weight:bold;font-style:normal;transform:scaleX(0.68);padding-top:2px">Control</span></div>
<div class="bx" style="left:539.25px;top:458.25px;width:32px;height:10px;background:#FFFFFF;border:1px solid #F4A66A;border-radius:3px;color:#000;align-items:center;"><span style="font-size:8.2px;line-height:1.0;font-weight:bold;font-style:normal;transform:scaleX(0.68);padding-top:2px">Command</span></div>
<div class="bx" style="left:596.4px;top:442.7px;width:48.9px;height:21px;background:#FFCC99;border:1px solid #F4A66A;border-radius:3px;color:#000;align-items:center;"><span style="font-size:8.2px;line-height:1.1;font-weight:bold;font-style:normal;transform:scaleX(0.68);padding-top:2px">Resource Port</span></div>
<div class="bx" style="left:596.4px;top:478.7px;width:48.9px;height:20.9px;background:#FFCC99;border:1px solid #F4A66A;border-radius:3px;color:#000;align-items:center;"><span style="font-size:8.2px;line-height:1.1;font-weight:bold;font-style:normal;transform:scaleX(0.68);padding-top:2px">Resource<br>Interface</span></div>
<div class="bx" style="left:715px;top:299.7px;width:44.8px;height:122px;background:#CCFFFF;border:1px solid #F4A66A;border-radius:4px;color:#000;align-items:center;"><span style="font-size:8.2px;line-height:1.1;font-weight:bold;font-style:normal;transform:scaleX(0.68);padding-top:2px"></span></div>
<div class="bx" style="left:719.9px;top:329.2px;width:35.6px;height:15.9px;background:#99CCFF;border:1px solid #F4A66A;border-radius:3px;color:#000;align-items:center;"><span style="font-size:8.2px;line-height:0.95;font-weight:bold;font-style:normal;transform:scaleX(0.68);padding-top:2.9px">Operational<br>Mitigation</span></div>
<div class="bx" style="left:721.6px;top:376.9px;width:31.5px;height:15.9px;background:#FFCC99;border:1px solid #F4A66A;border-radius:3px;color:#000;align-items:center;"><span style="font-size:8.2px;line-height:0.95;font-weight:bold;font-style:normal;transform:scaleX(0.68);padding-top:2.9px">Resource<br>Mitigation</span></div>
<div class="bx" style="left:721.6px;top:395.7px;width:31.5px;height:16.8px;background:#FFCC99;border:1px solid #F4A66A;border-radius:3px;color:#000;align-items:center;"><span style="font-size:8.2px;line-height:0.95;font-weight:bold;font-style:normal;transform:scaleX(0.68);padding-top:2.9px">Security<br>Enclave</span></div>
<div class="bx" style="left:669px;top:4.3px;width:325px;height:52.7px;background:#FFFFFF;border:1.5px solid #7F7F7F;border-radius:0px;color:#000;align-items:center;box-shadow:2px 2px 2px #999;"><span style="font-size:8.2px;line-height:1.1;font-weight:bold;font-style:normal;transform:scaleX(0.68);padding-top:2px"></span></div>
<div class="bx" style="left:769.6px;top:324.6px;width:116.2px;height:120.1px;background:#FFFFFF;border:1.5px solid #7F7F7F;border-radius:0px;color:#000;align-items:center;box-shadow:2px 2px 2px #999;"><span style="font-size:8.2px;line-height:1.1;font-weight:bold;font-style:normal;transform:scaleX(0.68);padding-top:2px"></span></div>
<div class="bx" style="left:894.3px;top:324.6px;width:100.5px;height:187.2px;background:#FFFFFF;border:1.5px solid #7F7F7F;border-radius:0px;color:#000;align-items:center;box-shadow:2px 2px 2px #999;"><span style="font-size:8.2px;line-height:1.1;font-weight:bold;font-style:normal;transform:scaleX(0.68);padding-top:2px"></span></div>
<svg width="1002" height="519" viewBox="0 0 1002 519">
<defs>
<marker id="ar" markerWidth="8" markerHeight="8" refX="4.6" refY="3.5" orient="auto" markerUnits="userSpaceOnUse"><path d="M0.4,0.7 L4.6,3.5 L0.4,6.3" fill="none" stroke="#FF4B4B" stroke-width="1.3"/></marker>
<marker id="ab" markerWidth="10" markerHeight="10" refX="6" refY="5" orient="auto" markerUnits="userSpaceOnUse"><path d="M1.3,1.2 L6,5 L1.3,8.8" fill="none" stroke="#2E75B6" stroke-width="1.8"/></marker>
<marker id="ak" markerWidth="8" markerHeight="8" refX="6" refY="4" orient="auto" markerUnits="userSpaceOnUse"><path d="M0.5,0.8 L6,4 L0.5,7.2" fill="none" stroke="#000" stroke-width="1"/></marker>
</defs>
<polyline points="132.5,23.5 156.5,23.5" fill="none" stroke="#FF4B4B" stroke-width="1" marker-end="url(#ar)"/>
<polyline points="144.5,23.5 144.5,51.5 156.5,51.5" fill="none" stroke="#FF4B4B" stroke-width="1" marker-end="url(#ar)"/>
<polyline points="179.5,30.5 179.5,42.5" fill="none" stroke="#FF4B4B" stroke-width="1" marker-end="url(#ar)"/>
<polyline points="179.5,59.5 179.5,71.5" fill="none" stroke="#FF4B4B" stroke-width="1" marker-end="url(#ar)"/>
<polyline points="202.5,51.5 250.5,51.5" fill="none" stroke="#FF4B4B" stroke-width="1" marker-end="url(#ar)"/>
<polyline points="251.5,76.5 202.5,76.5" fill="none" stroke="#FF4B4B" stroke-width="1" marker-end="url(#ar)"/>
<polyline points="202.5,81.5 237.5,81.5 237.5,142.5 259.5,142.5" fill="none" stroke="#FF4B4B" stroke-width="1" marker-end="url(#ar)"/>
<polyline points="202.5,108.5 237.5,108.5" fill="none" stroke="#FF4B4B" stroke-width="1"/>
<polyline points="202.5,129.5 237.5,129.5" fill="none" stroke="#FF4B4B" stroke-width="1"/>
<polyline points="179.5,138 179.5,147 146,147 146,118.5 136,118.5" fill="none" stroke="#2E75B6" stroke-width="1.6" marker-end="url(#ab)"/>
<polyline points="113,148 113,128" fill="none" stroke="#2E75B6" stroke-width="1.6" marker-end="url(#ab)"/>
<polyline points="157,177 113,177 113,165.5" fill="none" stroke="#2E75B6" stroke-width="1.6" marker-end="url(#ab)"/>
<polyline points="240,177 203.5,177" fill="none" stroke="#2E75B6" stroke-width="1.6" marker-end="url(#ab)"/>
<polyline points="254,168 254,156.3 180,156.3 180,168" fill="none" stroke="#2E75B6" stroke-width="1.6" marker-end="url(#ab)"/>
<polyline points="266.7,204 266.7,196.4 180,196.4 180,186" fill="none" stroke="#2E75B6" stroke-width="1.6" marker-end="url(#ab)"/>
<polyline points="293,204 293,183 330,183" fill="none" stroke="#2E75B6" stroke-width="1.6" marker-end="url(#ab)"/>
<polyline points="348.2,129.5 348.2,165" fill="none" stroke="#2E75B6" stroke-width="1.6" marker-end="url(#ab)"/>
<polyline points="465.75,183 428.5,183" fill="none" stroke="#2E75B6" stroke-width="1.6" marker-end="url(#ab)"/>
<polyline points="377.5,78.5 388.5,78.5 388.5,48.5 426.5,48.5" fill="none" stroke="#FF4B4B" stroke-width="1" marker-end="url(#ar)"/>
<polyline points="339.5,120.5 395.5,120.5 395.5,57.5 428.5,57.5" fill="none" stroke="#FF4B4B" stroke-width="1" marker-end="url(#ar)"/>
<polyline points="428.5,97.5 355.5,97.5" fill="none" stroke="#FF4B4B" stroke-width="1" marker-end="url(#ar)"/>
<polyline points="448.5,104.5 448.5,163.5 593.5,163.5 593.5,299.5" fill="none" stroke="#FF4B4B" stroke-width="1" marker-end="url(#ar)"/>
<polyline points="470.5,225.5 434.5,225.5 434.5,142.5 330.5,142.5" fill="none" stroke="#FF4B4B" stroke-width="1" marker-end="url(#ar)"/>
<polyline points="375.5,27.5 375.5,19.5 383.5,19.5 383.5,29.5 377.5,29.5" fill="none" stroke="#FF4B4B" stroke-width="1" marker-end="url(#ar)"/>
<polyline points="295.5,150.5 295.5,167.5 278.5,167.5 278.5,203.5" fill="none" stroke="#FF4B4B" stroke-width="1" marker-end="url(#ar)"/>
<polyline points="304.5,213.5 381.5,213.5" fill="none" stroke="#FF4B4B" stroke-width="1" marker-end="url(#ar)"/>
<polyline points="304.5,222.5 310.5,222.5 310.5,232.5 303.5,232.5 303.5,225.5" fill="none" stroke="#FF4B4B" stroke-width="1" marker-end="url(#ar)"/>
<polyline points="278.5,251.5 278.5,238.5 402.5,238.5 402.5,224.5" fill="none" stroke="#FF4B4B" stroke-width="1" marker-end="url(#ar)"/>
<polyline points="278.5,238.5 278.5,225.5" fill="none" stroke="#FF4B4B" stroke-width="1" marker-end="url(#ar)"/>
<polyline points="542.5,251.5 542.5,244.5 290.5,244.5 290.5,251.5" fill="none" stroke="#FF4B4B" stroke-width="1" marker-end="url(#ar)"/>
<polyline points="112.5,251.5 112.5,245.5 266.5,245.5 266.5,251.5" fill="none" stroke="#FF4B4B" stroke-width="1" marker-end="url(#ar)"/>
<polyline points="150.5,311.5 150.5,216.5 136.5,216.5" fill="none" stroke="#FF4B4B" stroke-width="1" marker-end="url(#ar)"/>
<polyline points="139.5,311.5 150.5,311.5" fill="none" stroke="#FF4B4B" stroke-width="1"/>
<polyline points="252.5,361.5 240.5,361.5 240.5,214.5 254.5,214.5" fill="none" stroke="#FF4B4B" stroke-width="1" marker-end="url(#ar)"/>
<polyline points="542.5,42.5 542.5,47.5 570.5,47.5" fill="none" stroke="#FF4B4B" stroke-width="1" marker-end="url(#ar)"/>
<polyline points="570.5,88.5 542.5,88.5 542.5,81.5" fill="none" stroke="#FF4B4B" stroke-width="1" marker-end="url(#ar)"/>
<polyline points="534.5,135.5 570.5,135.5" fill="none" stroke="#FF4B4B" stroke-width="1" marker-end="url(#ar)"/>
<polyline points="703.5,98.5 651.5,98.5 651.5,119.5" fill="none" stroke="#FF4B4B" stroke-width="1" marker-end="url(#ar)"/>
<polyline points="651.5,98.5 651.5,98.5" fill="none" stroke="#FF4B4B" stroke-width="1"/>
<polyline points="651.5,109.5 703.5,109.5" fill="none" stroke="#FF4B4B" stroke-width="1" marker-end="url(#ar)"/>
<polyline points="651.5,98.5 703.5,98.5" fill="none" stroke="#FF4B4B" stroke-width="1" marker-end="url(#ar)"/>
<polyline points="703.5,144.5 651.5,144.5 651.5,136.5" fill="none" stroke="#FF4B4B" stroke-width="1" marker-end="url(#ar)"/>
<polyline points="703.5,157.5 651.5,157.5 651.5,144.5" fill="none" stroke="#FF4B4B" stroke-width="1"/>
<polyline points="548.5,181.5 548.5,193.5" fill="none" stroke="#FF4B4B" stroke-width="1" marker-end="url(#ar)"/>
<polyline points="548.5,210.5 548.5,225.5 511.5,225.5" fill="none" stroke="#FF4B4B" stroke-width="1" marker-end="url(#ar)"/>
<polyline points="578.5,299.5 578.5,225.5 548.5,225.5" fill="none" stroke="#FF4B4B" stroke-width="1"/>
<polyline points="624.5,299.5 624.5,225.5" fill="none" stroke="#FF4B4B" stroke-width="1" marker-end="url(#ar)"/>
<polyline points="670.5,347.5 670.5,243.5 680.5,243.5 680.5,225.5" fill="none" stroke="#FF4B4B" stroke-width="1" marker-end="url(#ar)"/>
<polyline points="715.5,360.5 704.5,360.5 704.5,243.5 737.5,243.5 737.5,225.5" fill="none" stroke="#FF4B4B" stroke-width="1" marker-end="url(#ar)"/>
<polyline points="737.5,299.5 737.5,273.5" fill="none" stroke="#FF4B4B" stroke-width="1" marker-end="url(#ar)"/>
<polyline points="784.5,264.5 775.5,264.5 775.5,261.5 762.5,261.5" fill="none" stroke="#FF4B4B" stroke-width="1" marker-end="url(#ar)"/>
<polyline points="759.5,310.5 897.5,310.5 897.5,297.5" fill="none" stroke="#FF4B4B" stroke-width="1" marker-end="url(#ar)"/>
<polyline points="871.5,273.5 854.5,273.5 854.5,243.5 775.5,243.5 775.5,119.5 785.5,119.5" fill="none" stroke="#FF4B4B" stroke-width="1" marker-end="url(#ar)"/>
<polyline points="897.5,249.5 897.5,232.5 851.5,232.5 851.5,217.5" fill="none" stroke="#FF4B4B" stroke-width="1" marker-end="url(#ar)"/>
<polyline points="897.5,232.5 938.5,232.5 938.5,204.5" fill="none" stroke="#FF4B4B" stroke-width="1" marker-end="url(#ar)"/>
<polyline points="804.5,111.5 804.5,97.5 983.5,97.5 983.5,177.5 980.5,177.5" fill="none" stroke="#FF4B4B" stroke-width="1"/>
<polyline points="804.5,97.5 804.5,110.5" fill="none" stroke="#FF4B4B" stroke-width="1" marker-end="url(#ar)"/>
<polyline points="823.5,119.5 938.5,119.5 938.5,149.5" fill="none" stroke="#FF4B4B" stroke-width="1" marker-end="url(#ar)"/>
<polyline points="851.5,119.5 851.5,141.5" fill="none" stroke="#FF4B4B" stroke-width="1" marker-end="url(#ar)"/>
<polyline points="808.5,179.5 804.5,179.5 804.5,128.5" fill="none" stroke="#FF4B4B" stroke-width="1" marker-end="url(#ar)"/>
<polyline points="983.5,177.5 980.5,177.5" fill="none" stroke="#FF4B4B" stroke-width="1"/>
<polyline points="66.5,265.5 76.5,265.5 76.5,262.5 87.5,262.5" fill="none" stroke="#FF4B4B" stroke-width="1" marker-end="url(#ar)"/>
<polyline points="112.5,300.5 112.5,273.5" fill="none" stroke="#FF4B4B" stroke-width="1" marker-end="url(#ar)"/>
<polyline points="45.5,300.5 45.5,286.5 112.5,286.5" fill="none" stroke="#FF4B4B" stroke-width="1"/>
<polyline points="194.5,307.5 194.5,329.5 140.5,329.5" fill="none" stroke="#FF4B4B" stroke-width="1" marker-end="url(#ar)"/>
<polyline points="85.5,329.5 45.5,329.5 45.5,322.5" fill="none" stroke="#FF4B4B" stroke-width="1" marker-end="url(#ar)"/>
<polyline points="45.5,395.5 45.5,369.5" fill="none" stroke="#FF4B4B" stroke-width="1" marker-end="url(#ar)"/>
<polyline points="23.5,421.5 0.5,421.5 0.5,381.5 5.5,381.5" fill="none" stroke="#FF4B4B" stroke-width="1" marker-end="url(#ar)"/>
<polyline points="45.5,431.5 45.5,453.5" fill="none" stroke="#FF4B4B" stroke-width="1" marker-end="url(#ar)"/>
<polyline points="139.25,361 147,361 147,369.5 175,369.5" fill="none" stroke="#2E75B6" stroke-width="1.6" marker-end="url(#ab)"/>
<polyline points="174.5,404 140.5,404" fill="none" stroke="#2E75B6" stroke-width="1.6" marker-end="url(#ab)"/>
<polyline points="212,369.5 312,369.5 312,361 323.5,361" fill="none" stroke="#2E75B6" stroke-width="1.6" marker-end="url(#ab)"/>
<polyline points="112.5,422.5 112.5,442.5" fill="none" stroke="#FF4B4B" stroke-width="1" marker-end="url(#ar)"/>
<polyline points="112.5,478.5 112.5,464.5" fill="none" stroke="#FF4B4B" stroke-width="1" marker-end="url(#ar)"/>
<polyline points="137.5,419.5 145.5,419.5 145.5,430.5 137.5,430.5 137.5,422.5" fill="none" stroke="#FF4B4B" stroke-width="1"/>
<polyline points="137.5,489.5 254.5,489.5" fill="none" stroke="#FF4B4B" stroke-width="1" marker-end="url(#ar)"/>
<polyline points="366.5,489.5 366.5,513.5 112.5,513.5 112.5,500.5" fill="none" stroke="#FF4B4B" stroke-width="1" marker-end="url(#ar)"/>
<polyline points="326.5,265.5 315.5,265.5 315.5,262.5 304.5,262.5" fill="none" stroke="#FF4B4B" stroke-width="1" marker-end="url(#ar)"/>
<polyline points="279.5,300.5 279.5,273.5" fill="none" stroke="#FF4B4B" stroke-width="1" marker-end="url(#ar)"/>
<polyline points="348.5,300.5 348.5,286.5 279.5,286.5" fill="none" stroke="#FF4B4B" stroke-width="1"/>
<polyline points="449.5,306.5 371.5,306.5" fill="none" stroke="#FF4B4B" stroke-width="1" marker-end="url(#ar)"/>
<polyline points="303.5,329.5 348.5,329.5 348.5,322.5" fill="none" stroke="#FF4B4B" stroke-width="1" marker-end="url(#ar)"/>
<polyline points="507.5,343.5 306.5,343.5" fill="none" stroke="#FF4B4B" stroke-width="1" marker-end="url(#ar)"/>
<polyline points="448.5,361.5 370.5,361.5" fill="none" stroke="#FF4B4B" stroke-width="1" marker-end="url(#ar)"/>
<polyline points="347.5,397.5 347.5,370.5" fill="none" stroke="#FF4B4B" stroke-width="1" marker-end="url(#ar)"/>
<polyline points="369.5,418.5 448.5,418.5" fill="none" stroke="#FF4B4B" stroke-width="1"/>
<polyline points="410.5,418.5 410.5,402.5" fill="none" stroke="#FF4B4B" stroke-width="1" marker-end="url(#ar)"/>
<polyline points="448.5,426.5 370.5,426.5" fill="none" stroke="#FF4B4B" stroke-width="1" marker-end="url(#ar)"/>
<polyline points="347.5,432.5 347.5,453.5" fill="none" stroke="#FF4B4B" stroke-width="1" marker-end="url(#ar)"/>
<polyline points="279.5,422.5 279.5,442.5" fill="none" stroke="#FF4B4B" stroke-width="1" marker-end="url(#ar)"/>
<polyline points="279.5,478.5 279.5,464.5" fill="none" stroke="#FF4B4B" stroke-width="1" marker-end="url(#ar)"/>
<polyline points="252.5,419.5 246.5,419.5 246.5,430.5 254.5,430.5 254.5,423.5" fill="none" stroke="#FF4B4B" stroke-width="1"/>
<polyline points="448.5,463.5 370.5,463.5" fill="none" stroke="#FF4B4B" stroke-width="1" marker-end="url(#ar)"/>
<polyline points="596.5,489.5 304.5,489.5" fill="none" stroke="#FF4B4B" stroke-width="1" marker-end="url(#ar)"/>
<polyline points="493.5,265.5 503.5,265.5 503.5,262.5 517.5,262.5" fill="none" stroke="#FF4B4B" stroke-width="1" marker-end="url(#ar)"/>
<polyline points="542.5,299.5 542.5,273.5" fill="none" stroke="#FF4B4B" stroke-width="1" marker-end="url(#ar)"/>
<polyline points="471.5,300.5 471.5,285.5 529.5,285.5 529.5,273.5" fill="none" stroke="#FF4B4B" stroke-width="1" marker-end="url(#ar)"/>
<polyline points="507.5,328.5 471.5,328.5 471.5,322.5" fill="none" stroke="#FF4B4B" stroke-width="1" marker-end="url(#ar)"/>
<polyline points="471.5,397.5 471.5,369.5" fill="none" stroke="#FF4B4B" stroke-width="1" marker-end="url(#ar)"/>
<polyline points="471.5,432.5 471.5,452.5" fill="none" stroke="#FF4B4B" stroke-width="1" marker-end="url(#ar)"/>
<polyline points="620.5,421.5 620.5,442.5" fill="none" stroke="#FF4B4B" stroke-width="1" marker-end="url(#ar)"/>
<polyline points="620.5,478.5 620.5,464.5" fill="none" stroke="#FF4B4B" stroke-width="1" marker-end="url(#ar)"/>
<polyline points="689.5,418.5 700.5,418.5 700.5,430.5 693.5,430.5 693.5,422.5" fill="none" stroke="#FF4B4B" stroke-width="1"/>
<polyline points="134.5,82.5 134.5,80.5 141.5,80.5 141.5,89.5 133.5,89.5 133.5,81.5" fill="none" stroke="#FF4B4B" stroke-width="1"/>
<polyline points="132.5,79.5 137.5,79.5" fill="none" stroke="#FF4B4B" stroke-width="1"/>
</svg>
<div class="lb" style="left:345.5px;top:174px;font-size:9px;line-height:1.15;color:#333;font-style:italic;font-weight:normal;transform:translateX(-50%) scaleX(0.75);transform-origin:50% 0;text-align:center">Actual<br>State</div>
<div class="lb" style="left:371px;top:173.5px;font-size:9.5px;line-height:1.05;color:#111;font-style:normal;font-weight:bold;transform:translateX(-50%) scaleX(0.7);transform-origin:50% 0;text-align:center">Actual<br>Effect</div>
<div class="lb" style="left:42px;top:35.5px;font-size:5.8px;line-height:1.25;color:#000;font-style:italic;font-weight:bold;transform:translateX(-50%) scaleX(0.75);transform-origin:50% 0;text-align:center">describes the<br>architecture to<br>transform</div>
<div class="lb" style="left:66.5px;top:86px;font-size:5.8px;line-height:1.25;color:#000;font-style:italic;font-weight:bold;transform:translateX(-50%) scaleX(0.78);transform-origin:50% 0;text-align:center">and has a<br>purposeful<br>endeavor</div>
<div class="lb" style="left:141px;top:13.5px;font-size:6.5px;line-height:1.17;color:#303030;font-style:italic;font-weight:normal;transform:translateX(-50%) scaleX(0.785);transform-origin:50% 0;text-align:center">[Has]</div>
<div class="lb" style="left:110px;top:34.5px;font-size:6.5px;line-height:1.17;color:#303030;font-style:normal;font-weight:normal;transform:translateX(-50%) scaleX(0.785);transform-origin:50% 0;text-align:center">References</div>
<div class="lb" style="left:162px;top:31px;font-size:6.5px;line-height:1.17;color:#303030;font-style:italic;font-weight:normal;transform:translateX(-50%) scaleX(0.785);transform-origin:50% 0;text-align:center">[Governed by]</div>
<div class="lb" style="left:164px;top:60.5px;font-size:6.5px;line-height:1.17;color:#303030;font-style:italic;font-weight:normal;transform:translateX(-50%) scaleX(0.785);transform-origin:50% 0;text-align:center">[frames]</div>
<div class="lb" style="left:222px;top:34px;font-size:6.5px;line-height:1.17;color:#303030;font-style:italic;font-weight:normal;transform:translateX(-50%) scaleX(0.785);transform-origin:50% 0;text-align:center">[captures<br>perspective of]</div>
<div class="lb" style="left:222.5px;top:61px;font-size:6.5px;line-height:1.17;color:#303030;font-style:normal;font-weight:normal;transform:translateX(-50%) scaleX(0.785);transform-origin:50% 0;text-align:center">Stakeholder<br>concern</div>
<div class="lb" style="left:222px;top:82px;font-size:6.5px;line-height:1.17;color:#303030;font-style:normal;font-weight:normal;transform:translateX(-50%) scaleX(0.785);transform-origin:50% 0;text-align:center">Concern<br><i>[applies to]</i></div>
<div class="lb" style="left:222px;top:110px;font-size:6.5px;line-height:1.17;color:#303030;font-style:italic;font-weight:normal;transform:translateX(-50%) scaleX(0.785);transform-origin:50% 0;text-align:center">[defined for]</div>
<div class="lb" style="left:222px;top:132.5px;font-size:6.5px;line-height:1.17;color:#303030;font-style:italic;font-weight:normal;transform:translateX(-50%) scaleX(0.785);transform-origin:50% 0;text-align:center">[assigned to]</div>
<div class="lb" style="left:129px;top:129.5px;font-size:6.5px;line-height:1.17;color:#303030;font-style:normal;font-weight:normal;transform:translateX(-50%) scaleX(0.785);transform-origin:50% 0;text-align:center">Presented<br>by</div>
<div class="lb" style="left:162.5px;top:146px;font-size:6.5px;line-height:1.17;color:#303030;font-style:normal;font-weight:normal;transform:translateX(-50%) scaleX(0.785);transform-origin:50% 0;text-align:center">Motivated by</div>
<div class="lb" style="left:135.5px;top:170px;font-size:6.5px;line-height:1.17;color:#303030;font-style:normal;font-weight:normal;transform:translateX(-50%) scaleX(0.785);transform-origin:50% 0;text-align:center">Motivated by</div>
<div class="lb" style="left:222px;top:170px;font-size:6.5px;line-height:1.17;color:#303030;font-style:normal;font-weight:normal;transform:translateX(-50%) scaleX(0.785);transform-origin:50% 0;text-align:center">Affects</div>
<div class="lb" style="left:217px;top:149px;font-size:6.5px;line-height:1.17;color:#303030;font-style:normal;font-weight:normal;transform:translateX(-50%) scaleX(0.785);transform-origin:50% 0;text-align:center">Evoked by</div>
<div class="lb" style="left:222.5px;top:189px;font-size:6.5px;line-height:1.17;color:#303030;font-style:normal;font-weight:normal;transform:translateX(-50%) scaleX(0.785);transform-origin:50% 0;text-align:center">Impacted by</div>
<div class="lb" style="left:285px;top:157.5px;font-size:6.5px;line-height:1.17;color:#303030;font-style:normal;font-weight:normal;transform:translateX(-50%) scaleX(0.785);transform-origin:50% 0;text-align:center">Phases</div>
<div class="lb" style="left:360.5px;top:133.5px;font-size:6.5px;line-height:1.17;color:#303030;font-style:normal;font-weight:normal;transform:translateX(-50%) scaleX(0.785);transform-origin:50% 0;text-align:center">Achieves</div>
<div class="lb" style="left:403px;top:15.5px;font-size:6.5px;line-height:1.17;color:#303030;font-style:normal;font-weight:normal;transform:translateX(-50%) scaleX(0.785);transform-origin:50% 0;text-align:center">Generalization<br>/ whole-part</div>
<div class="lb" style="left:408px;top:40.5px;font-size:6.5px;line-height:1.17;color:#303030;font-style:normal;font-weight:normal;transform:translateX(-50%) scaleX(0.785);transform-origin:50% 0;text-align:center">Classified by</div>
<div class="lb" style="left:410px;top:50px;font-size:6.5px;line-height:1.17;color:#303030;font-style:normal;font-weight:normal;transform:translateX(-50%) scaleX(0.785);transform-origin:50% 0;text-align:center">Classified by</div>
<div class="lb" style="left:415px;top:81px;font-size:6.5px;line-height:1.17;color:#303030;font-style:normal;font-weight:normal;transform:translateX(-50%) scaleX(0.785);transform-origin:50% 0;text-align:center">Owning<br>project</div>
<div class="lb" style="left:479px;top:155px;font-size:6.5px;line-height:1.17;color:#303030;font-style:italic;font-weight:normal;transform:translateX(-50%) scaleX(0.785);transform-origin:50% 0;text-align:center">[Provides status for]</div>
<div class="lb" style="left:311px;top:183.5px;font-size:6.5px;line-height:1.17;color:#303030;font-style:normal;font-weight:normal;transform:translateX(-50%) scaleX(0.785);transform-origin:50% 0;text-align:center">Desires</div>
<div class="lb" style="left:450px;top:174px;font-size:6.5px;line-height:1.17;color:#303030;font-style:normal;font-weight:normal;transform:translateX(-50%) scaleX(0.785);transform-origin:50% 0;text-align:center">Classifies</div>
<div class="lb" style="left:454px;top:218px;font-size:6.5px;line-height:1.17;color:#303030;font-style:normal;font-weight:normal;transform:translateX(-50%) scaleX(0.785);transform-origin:50% 0;text-align:center">Period of</div>
<div class="lb" style="left:344px;top:206px;font-size:6.5px;line-height:1.17;color:#303030;font-style:normal;font-weight:normal;transform:translateX(-50%) scaleX(0.785);transform-origin:50% 0;text-align:center">Capability for task</div>
<div class="lb" style="left:329px;top:221px;font-size:6.5px;line-height:1.17;color:#303030;font-style:normal;font-weight:normal;transform:translateX(-50%) scaleX(0.785);transform-origin:50% 0;text-align:center">Generalization<br>/ whole-part</div>
<div class="lb" style="left:373px;top:230.5px;font-size:6.5px;line-height:1.17;color:#303030;font-style:normal;font-weight:normal;transform:translateX(-50%) scaleX(0.785);transform-origin:50% 0;text-align:center">Implements</div>
<div class="lb" style="left:267.5px;top:228.5px;font-size:6.5px;line-height:1.17;color:#303030;font-style:normal;font-weight:normal;transform:translateX(-50%) scaleX(0.785);transform-origin:50% 0;text-align:center">Maps to</div>
<div class="lb" style="left:161.5px;top:222.5px;font-size:6.5px;line-height:1.17;color:#303030;font-style:normal;font-weight:normal;transform:translateX(-50%) scaleX(0.785);transform-origin:50% 0;text-align:center">Exhibits</div>
<div class="lb" style="left:228px;top:222.5px;font-size:6.5px;line-height:1.17;color:#303030;font-style:normal;font-weight:normal;transform:translateX(-50%) scaleX(0.785);transform-origin:50% 0;text-align:center">Exhibits</div>
<div class="lb" style="left:188.5px;top:246px;font-size:6.5px;line-height:1.17;color:#303030;font-style:normal;font-weight:normal;transform:translateX(-50%) scaleX(0.785);transform-origin:50% 0;text-align:center">Implements</div>
<div class="lb" style="left:409.5px;top:248px;font-size:6.5px;line-height:1.17;color:#303030;font-style:normal;font-weight:normal;transform:translateX(-50%) scaleX(0.785);transform-origin:50% 0;text-align:center">Implements</div>
<div class="lb" style="left:548px;top:173px;font-size:6.5px;line-height:1.17;color:#303030;font-style:normal;font-weight:normal;transform:translateX(-50%) scaleX(0.785);transform-origin:50% 0;text-align:center">[all elements]</div>
<div class="lb" style="left:565.5px;top:180.5px;font-size:6.5px;line-height:1.17;color:#303030;font-style:normal;font-weight:normal;transform:translateX(-50%) scaleX(0.785);transform-origin:50% 0;text-align:center">Conforms to</div>
<div class="lb" style="left:531.5px;top:216.5px;font-size:6.5px;line-height:1.17;color:#303030;font-style:normal;font-weight:normal;transform:translateX(-50%) scaleX(0.785);transform-origin:50% 0;text-align:center">Subject of</div>
<div class="lb" style="left:554px;top:48.5px;font-size:6.5px;line-height:1.17;color:#303030;font-style:italic;font-weight:normal;transform:translateX(-50%) scaleX(0.785);transform-origin:50% 0;text-align:center">[Measures]</div>
<div class="lb" style="left:556px;top:89.5px;font-size:6.5px;line-height:1.25;color:#303030;font-style:normal;font-weight:normal;transform:translateX(-50%) scaleX(0.785);transform-origin:50% 0;text-align:center">Activity<br>performable<br>under</div>
<div class="lb" style="left:554px;top:119px;font-size:6.5px;line-height:1.17;color:#303030;font-style:italic;font-weight:normal;transform:translateX(-50%) scaleX(0.785);transform-origin:50% 0;text-align:center">[Specifies<br>dates for]</div>
<div class="lb" style="left:688px;top:100px;font-size:6.5px;line-height:1.17;color:#303030;font-style:normal;font-weight:normal;transform:translateX(-50%) scaleX(0.785);transform-origin:50% 0;text-align:center">Refine</div>
<div class="lb" style="left:688px;top:111.5px;font-size:6.5px;line-height:1.17;color:#303030;font-style:normal;font-weight:normal;transform:translateX(-50%) scaleX(0.785);transform-origin:50% 0;text-align:center">Trace</div>
<div class="lb" style="left:688px;top:136.5px;font-size:6.5px;line-height:1.17;color:#303030;font-style:normal;font-weight:normal;transform:translateX(-50%) scaleX(0.785);transform-origin:50% 0;text-align:center">Satisfy</div>
<div class="lb" style="left:688px;top:149.5px;font-size:6.5px;line-height:1.17;color:#303030;font-style:normal;font-weight:normal;transform:translateX(-50%) scaleX(0.785);transform-origin:50% 0;text-align:center">Verify</div>
<div class="lb" style="left:706.5px;top:128.5px;font-size:8px;line-height:1.1;color:#333;font-style:normal;font-weight:bold;transform:translateX(-50%) scaleX(1) rotate(-90deg);transform-origin:50% 0;text-align:center">[all elements]</div>
<div class="lb" style="left:613px;top:231.5px;font-size:6.5px;line-height:1.17;color:#303030;font-style:normal;font-weight:normal;transform:translateX(-50%) scaleX(0.785);transform-origin:50% 0;text-align:center">Exhibits</div>
<div class="lb" style="left:667px;top:231px;font-size:6.5px;line-height:1.17;color:#303030;font-style:normal;font-weight:normal;transform:translateX(-50%) scaleX(0.785);transform-origin:50% 0;text-align:center">Exhibits</div>
<div class="lb" style="left:724px;top:231.5px;font-size:6.5px;line-height:1.17;color:#303030;font-style:normal;font-weight:normal;transform:translateX(-50%) scaleX(0.785);transform-origin:50% 0;text-align:center">Exhibits</div>
<div class="lb" style="left:752.5px;top:280px;font-size:6.5px;line-height:1.17;color:#303030;font-style:normal;font-weight:normal;transform:translateX(-50%) scaleX(0.785);transform-origin:50% 0;text-align:center">Is capable<br>to perform</div>
<div class="lb" style="left:772px;top:269px;font-size:6.5px;line-height:1.17;color:#303030;font-style:normal;font-weight:normal;transform:translateX(-50%) scaleX(0.785);transform-origin:50% 0;text-align:center">Behavior</div>
<div class="lb" style="left:805px;top:303.5px;font-size:6.5px;line-height:1.17;color:#303030;font-style:normal;font-weight:normal;transform:translateX(-50%) scaleX(0.785);transform-origin:50% 0;text-align:center">Satisfies</div>
<div class="lb" style="left:824.5px;top:235px;font-size:6.5px;line-height:1.17;color:#303030;font-style:normal;font-weight:normal;transform:translateX(-50%) scaleX(0.785);transform-origin:50% 0;text-align:center">Mitigates</div>
<div class="lb" style="left:866.5px;top:219px;font-size:6.5px;line-height:1.17;color:#303030;font-style:normal;font-weight:normal;transform:translateX(-50%) scaleX(0.785);transform-origin:50% 0;text-align:center">Protects</div>
<div class="lb" style="left:925px;top:212px;font-size:6.5px;line-height:1.17;color:#303030;font-style:normal;font-weight:normal;transform:translateX(-50%) scaleX(0.785);transform-origin:50% 0;text-align:center">Protects<br>in context</div>
<div class="lb" style="left:837px;top:131px;font-size:6.5px;line-height:1.17;color:#303030;font-style:normal;font-weight:normal;transform:translateX(-50%) scaleX(0.785);transform-origin:50% 0;text-align:center">Affects</div>
<div class="lb" style="left:793px;top:133px;font-size:6.5px;line-height:1.17;color:#303030;font-style:normal;font-weight:normal;transform:translateX(-50%) scaleX(0.785);transform-origin:50% 0;text-align:center">Owns<br>risk</div>
<div class="lb" style="left:927px;top:131px;font-size:6.5px;line-height:1.17;color:#303030;font-style:normal;font-weight:normal;transform:translateX(-50%) scaleX(0.785);transform-origin:50% 0;text-align:center">Affects in<br>context</div>
<div class="lb" style="left:968px;top:130.5px;font-size:6.5px;line-height:1.17;color:#303030;font-style:normal;font-weight:normal;transform:translateX(-50%) scaleX(0.785);transform-origin:50% 0;text-align:center">Owns risk<br>in context</div>
<div class="lb" style="left:77px;top:270.5px;font-size:6.5px;line-height:1.17;color:#303030;font-style:normal;font-weight:normal;transform:translateX(-50%) scaleX(0.785);transform-origin:50% 0;text-align:center">Behavior</div>
<div class="lb" style="left:127.5px;top:280px;font-size:6.5px;line-height:1.17;color:#303030;font-style:normal;font-weight:normal;transform:translateX(-50%) scaleX(0.785);transform-origin:50% 0;text-align:center">Is capable<br>to perform</div>
<div class="lb" style="left:72px;top:289px;font-size:6.5px;line-height:1.17;color:#303030;font-style:normal;font-weight:normal;transform:translateX(-50%) scaleX(0.785);transform-origin:50% 0;text-align:center">Performs in context</div>
<div class="lb" style="left:169px;top:319.5px;font-size:6.5px;line-height:1.17;color:#303030;font-style:normal;font-weight:normal;transform:translateX(-50%) scaleX(0.785);transform-origin:50% 0;text-align:center">Implements</div>
<div class="lb" style="left:56.5px;top:331.5px;font-size:6.5px;line-height:1.17;color:#303030;font-style:italic;font-weight:normal;transform:translateX(-50%) scaleX(0.785);transform-origin:50% 0;text-align:center">[Service role]</div>
<div class="lb" style="left:62px;top:377px;font-size:6.5px;line-height:1.17;color:#303030;font-style:normal;font-weight:normal;transform:translateX(-50%) scaleX(0.785);transform-origin:50% 0;text-align:center">Conveyed<br>&nbsp;&nbsp;on</div>
<div class="lb" style="left:153px;top:352px;font-size:6.5px;line-height:1.17;color:#303030;font-style:normal;font-weight:normal;transform:translateX(-50%) scaleX(0.785);transform-origin:50% 0;text-align:center">Governed<br>&nbsp;&nbsp;&nbsp;by</div>
<div class="lb" style="left:154px;top:393.5px;font-size:6.5px;line-height:1.17;color:#303030;font-style:normal;font-weight:normal;transform:translateX(-50%) scaleX(0.785);transform-origin:50% 0;text-align:center">Constrains</div>
<div class="lb" style="left:235px;top:371.5px;font-size:6.5px;line-height:1.17;color:#303030;font-style:normal;font-weight:normal;transform:translateX(-50%) scaleX(0.785);transform-origin:50% 0;text-align:center">Constrains</div>
<div class="lb" style="left:32.5px;top:437px;font-size:6.5px;line-height:1.17;color:#303030;font-style:normal;font-weight:normal;transform:translateX(-50%) scaleX(0.785);transform-origin:50% 0;text-align:center">Conveyed<br>&nbsp;&nbsp;on</div>
<div class="lb" style="left:104px;top:424.5px;font-size:6.5px;line-height:1.17;color:#303030;font-style:normal;font-weight:normal;transform:translateX(-50%) scaleX(0.785);transform-origin:50% 0;text-align:center">Owns</div>
<div class="lb" style="left:101px;top:465px;font-size:6.5px;line-height:1.17;color:#303030;font-style:normal;font-weight:normal;transform:translateX(-50%) scaleX(0.785);transform-origin:50% 0;text-align:center">Types</div>
<div class="lb" style="left:158px;top:431px;font-size:6.5px;line-height:1.17;color:#303030;font-style:normal;font-weight:normal;transform:translateX(-50%) scaleX(0.785);transform-origin:50% 0;text-align:center">Generalization<br>/ whole-part</div>
<div class="lb" style="left:185.5px;top:489.5px;font-size:6.5px;line-height:1.17;color:#303030;font-style:normal;font-weight:normal;transform:translateX(-50%) scaleX(0.785);transform-origin:50% 0;text-align:center">Implements</div>
<div class="lb" style="left:2px;top:410px;font-size:6.5px;line-height:1.17;color:#303030;font-style:normal;font-weight:normal;transform:translateX(-50%) scaleX(1) rotate(-90deg);transform-origin:50% 0;text-align:center">Owner</div>
<div class="lb" style="left:10px;top:500px;font-size:6.3px;line-height:1.15;color:#303030;font-style:italic;font-weight:normal;transform:scaleX(0.85);transform-origin:0 0;text-align:left">2 – can&nbsp; also be a Resource<br>&nbsp;&nbsp;&nbsp;&nbsp;Performer or Service Signal</div>
<div class="lb" style="left:315px;top:269px;font-size:6.5px;line-height:1.17;color:#303030;font-style:normal;font-weight:normal;transform:translateX(-50%) scaleX(0.785);transform-origin:50% 0;text-align:center">Behavior</div>
<div class="lb" style="left:263.5px;top:280px;font-size:6.5px;line-height:1.17;color:#303030;font-style:normal;font-weight:normal;transform:translateX(-50%) scaleX(0.785);transform-origin:50% 0;text-align:center">Is capable<br>to perform</div>
<div class="lb" style="left:320.5px;top:289px;font-size:6.5px;line-height:1.17;color:#303030;font-style:normal;font-weight:normal;transform:translateX(-50%) scaleX(0.785);transform-origin:50% 0;text-align:center">Performs in context</div>
<div class="lb" style="left:409.5px;top:308.5px;font-size:6.5px;line-height:1.17;color:#303030;font-style:normal;font-weight:normal;transform:translateX(-50%) scaleX(0.785);transform-origin:50% 0;text-align:center">Implements</div>
<div class="lb" style="left:331.5px;top:330px;font-size:6.5px;line-height:1.17;color:#303030;font-style:italic;font-weight:normal;transform:translateX(-50%) scaleX(0.785);transform-origin:50% 0;text-align:center">[Operational role]</div>
<div class="lb" style="left:409.5px;top:344.5px;font-size:6.5px;line-height:1.17;color:#303030;font-style:normal;font-weight:normal;transform:translateX(-50%) scaleX(0.785);transform-origin:50% 0;text-align:center">Implements</div>
<div class="lb" style="left:409.5px;top:362px;font-size:6.5px;line-height:1.17;color:#303030;font-style:normal;font-weight:normal;transform:translateX(-50%) scaleX(0.785);transform-origin:50% 0;text-align:center">Implements</div>
<div class="lb" style="left:331.5px;top:379px;font-size:6.5px;line-height:1.17;color:#303030;font-style:normal;font-weight:normal;transform:translateX(-50%) scaleX(0.785);transform-origin:50% 0;text-align:center">Conveyed<br>&nbsp;&nbsp;on</div>
<div class="lb" style="left:386px;top:409.5px;font-size:6.5px;line-height:1.17;color:#303030;font-style:normal;font-weight:normal;transform:translateX(-50%) scaleX(0.785);transform-origin:50% 0;text-align:center">Owner</div>
<div class="lb" style="left:428px;top:409.5px;font-size:6.5px;line-height:1.17;color:#303030;font-style:normal;font-weight:normal;transform:translateX(-50%) scaleX(0.785);transform-origin:50% 0;text-align:center">Owner</div>
<div class="lb" style="left:409.5px;top:427.5px;font-size:6.5px;line-height:1.17;color:#303030;font-style:normal;font-weight:normal;transform:translateX(-50%) scaleX(0.785);transform-origin:50% 0;text-align:center">Implements</div>
<div class="lb" style="left:360.5px;top:436px;font-size:6.5px;line-height:1.17;color:#303030;font-style:normal;font-weight:normal;transform:translateX(-50%) scaleX(0.785);transform-origin:50% 0;text-align:center">Conveyed<br>&nbsp;&nbsp;on</div>
<div class="lb" style="left:271px;top:425px;font-size:6.5px;line-height:1.17;color:#303030;font-style:normal;font-weight:normal;transform:translateX(-50%) scaleX(0.785);transform-origin:50% 0;text-align:center">Owns</div>
<div class="lb" style="left:269px;top:465px;font-size:6.5px;line-height:1.17;color:#303030;font-style:normal;font-weight:normal;transform:translateX(-50%) scaleX(0.785);transform-origin:50% 0;text-align:center">Types</div>
<div class="lb" style="left:235px;top:431px;font-size:6.5px;line-height:1.17;color:#303030;font-style:normal;font-weight:normal;transform:translateX(-50%) scaleX(0.785);transform-origin:50% 0;text-align:center">Generalization<br>/ whole-part</div>
<div class="lb" style="left:409.5px;top:465px;font-size:6.5px;line-height:1.17;color:#303030;font-style:normal;font-weight:normal;transform:translateX(-50%) scaleX(0.785);transform-origin:50% 0;text-align:center">Implements</div>
<div class="lb" style="left:409.5px;top:490px;font-size:6.5px;line-height:1.17;color:#303030;font-style:normal;font-weight:normal;transform:translateX(-50%) scaleX(0.785);transform-origin:50% 0;text-align:center">Implements</div>
<div class="lb" style="left:504.5px;top:269px;font-size:6.5px;line-height:1.17;color:#303030;font-style:normal;font-weight:normal;transform:translateX(-50%) scaleX(0.785);transform-origin:50% 0;text-align:center">Behavior</div>
<div class="lb" style="left:557.5px;top:280px;font-size:6.5px;line-height:1.17;color:#303030;font-style:normal;font-weight:normal;transform:translateX(-50%) scaleX(0.785);transform-origin:50% 0;text-align:center">Is capable<br>to perform</div>
<div class="lb" style="left:500.5px;top:289px;font-size:6.5px;line-height:1.17;color:#303030;font-style:normal;font-weight:normal;transform:translateX(-50%) scaleX(0.785);transform-origin:50% 0;text-align:center">Performs in context</div>
<div class="lb" style="left:485px;top:330.5px;font-size:6.5px;line-height:1.17;color:#303030;font-style:italic;font-weight:normal;transform:translateX(-50%) scaleX(0.785);transform-origin:50% 0;text-align:center">[Resource role]</div>
<div class="lb" style="left:487.5px;top:379px;font-size:6.5px;line-height:1.17;color:#303030;font-style:normal;font-weight:normal;transform:translateX(-50%) scaleX(0.785);transform-origin:50% 0;text-align:center">Conveyed<br>&nbsp;&nbsp;on</div>
<div class="lb" style="left:457.5px;top:436px;font-size:6.5px;line-height:1.17;color:#303030;font-style:normal;font-weight:normal;transform:translateX(-50%) scaleX(0.785);transform-origin:50% 0;text-align:center">Conveyed<br>&nbsp;&nbsp;on</div>
<div class="lb" style="left:524px;top:473.5px;font-size:6.5px;line-height:1.17;color:#303030;font-style:normal;font-weight:normal;transform:translateX(-50%) scaleX(0.785);transform-origin:50% 0;text-align:center">Typed as</div>
<div class="lb" style="left:611.5px;top:425px;font-size:6.5px;line-height:1.17;color:#303030;font-style:normal;font-weight:normal;transform:translateX(-50%) scaleX(0.785);transform-origin:50% 0;text-align:center">Owns</div>
<div class="lb" style="left:611px;top:468px;font-size:6.5px;line-height:1.17;color:#303030;font-style:normal;font-weight:normal;transform:translateX(-50%) scaleX(0.785);transform-origin:50% 0;text-align:center">Types</div>
<div class="lb" style="left:673px;top:425.5px;font-size:6.5px;line-height:1.17;color:#303030;font-style:normal;font-weight:normal;transform:translateX(-50%) scaleX(0.785);transform-origin:50% 0;text-align:center">Generalization<br>/ whole-part</div>
<div class="lb" style="left:504.5px;top:501px;font-size:6.4px;line-height:1.15;color:#303030;font-style:italic;font-weight:normal;transform:translateX(-50%) scaleX(0.855);transform-origin:50% 0;text-align:center">1 – can&nbsp; also be a Resource Performer, Operational<br>&nbsp;&nbsp;&nbsp;&nbsp;or Resource Signal or Geopolitical Extent</div>
<div class="lb" style="left:800.5px;top:462px;font-size:6.5px;line-height:1.08;color:#303030;font-style:italic;font-weight:normal;transform:translateX(-50%) scaleX(0.89);transform-origin:50% 0;text-align:center">These elements are serving in<br>a special role that makes them<br>capable to perform a security<br>process in the security domain</div>
<div class="lb" style="left:831.5px;top:9px;font-size:20px;line-height:1.1;color:#111;font-style:normal;font-weight:bold;transform:translateX(-50%) scaleX(0.773);transform-origin:50% 0;text-align:center"><u>Unified Architecture Framework (UAF) v1.2</u></div>
<div class="lb" style="left:831.5px;top:39.5px;font-size:12.5px;line-height:1.1;color:#111;font-style:italic;font-weight:normal;transform:translateX(-50%) scaleX(0.847);transform-origin:50% 0;text-align:center">A simplified partial view of the UAF Domain Metamodel (DMM)</div>
<div class="lb" style="left:979px;top:62px;font-size:7.5px;line-height:1.1;color:#111;font-style:normal;font-weight:bold;transform:translateX(-50%) scaleX(0.85);transform-origin:50% 0;text-align:center">v1</div>
<div class="lb" style="left:827.5px;top:328.5px;font-size:14px;line-height:1.1;color:#111;font-style:normal;font-weight:bold;transform:translateX(-50%) scaleX(0.774);transform-origin:50% 0;text-align:center">UAF Element Legend</div>
<div class="lb" style="left:943.5px;top:328.5px;font-size:14px;line-height:1.1;color:#111;font-style:normal;font-weight:bold;transform:translateX(-50%) scaleX(0.768);transform-origin:50% 0;text-align:center">UAF Grid Legend</div>
<div class="lb" style="left:793.4px;top:348.3px;font-size:8.5px;line-height:1.1;color:#333;font-style:normal;font-weight:normal;transform:scaleX(0.753);transform-origin:0 0;text-align:left">Changed element for UAF v1.2</div>
<div class="lb" style="left:793.4px;top:360.8px;font-size:8.5px;line-height:1.1;color:#333;font-style:normal;font-weight:normal;transform:scaleX(0.753);transform-origin:0 0;text-align:left">Changed relation for UAF v1.2</div>
<div class="lb" style="left:793.4px;top:373.3px;font-size:8.5px;line-height:1.1;color:#333;font-style:normal;font-weight:normal;transform:scaleX(0.753);transform-origin:0 0;text-align:left">Implied name of relationship</div>
<div class="lb" style="left:793.4px;top:385.5px;font-size:8.5px;line-height:1.1;color:#333;font-style:normal;font-weight:normal;transform:scaleX(0.753);transform-origin:0 0;text-align:left">Abstract element</div>
<div class="lb" style="left:793.4px;top:398px;font-size:8.5px;line-height:1.1;color:#333;font-style:normal;font-weight:normal;transform:scaleX(0.753);transform-origin:0 0;text-align:left">Relationship</div>
<div class="lb" style="left:793.4px;top:410.8px;font-size:8.5px;line-height:1.1;color:#333;font-style:normal;font-weight:normal;transform:scaleX(0.753);transform-origin:0 0;text-align:left">Interaction</div>
<div class="lb" style="left:793.4px;top:423.4px;font-size:8.5px;line-height:1.1;color:#333;font-style:normal;font-weight:normal;transform:scaleX(0.753);transform-origin:0 0;text-align:left">Is a kind of its “parent”</div>
<div class="lb" style="left:773.5px;top:373.1px;font-size:8.5px;line-height:1.1;color:#333;font-style:italic;font-weight:normal;transform:scaleX(0.85);transform-origin:0 0;text-align:left">[text]</div>
<div class="lb" style="left:773.5px;top:385.3px;font-size:8.5px;line-height:1.1;color:#333;font-style:italic;font-weight:normal;transform:scaleX(0.85);transform-origin:0 0;text-align:left">Title</div>
<div class="lb" style="left:915.6px;top:346.8px;font-size:8.5px;line-height:1.1;color:#333;font-style:normal;font-weight:normal;transform:scaleX(0.753);transform-origin:0 0;text-align:left">Summary &amp; Overview</div>
<div class="lb" style="left:915.6px;top:359.61px;font-size:8.5px;line-height:1.1;color:#333;font-style:normal;font-weight:normal;transform:scaleX(0.753);transform-origin:0 0;text-align:left">Strategic</div>
<div class="lb" style="left:915.6px;top:372.42px;font-size:8.5px;line-height:1.1;color:#333;font-style:normal;font-weight:normal;transform:scaleX(0.753);transform-origin:0 0;text-align:left">Operational</div>
<div class="lb" style="left:915.6px;top:385.23px;font-size:8.5px;line-height:1.1;color:#333;font-style:normal;font-weight:normal;transform:scaleX(0.753);transform-origin:0 0;text-align:left">Services</div>
<div class="lb" style="left:915.6px;top:398.04px;font-size:8.5px;line-height:1.1;color:#333;font-style:normal;font-weight:normal;transform:scaleX(0.753);transform-origin:0 0;text-align:left">Resources</div>
<div class="lb" style="left:915.6px;top:410.85px;font-size:8.5px;line-height:1.1;color:#333;font-style:normal;font-weight:normal;transform:scaleX(0.753);transform-origin:0 0;text-align:left">Personnel</div>
<div class="lb" style="left:915.6px;top:423.66px;font-size:8.5px;line-height:1.1;color:#333;font-style:normal;font-weight:normal;transform:scaleX(0.753);transform-origin:0 0;text-align:left">Security</div>
<div class="lb" style="left:915.6px;top:436.47px;font-size:8.5px;line-height:1.1;color:#333;font-style:normal;font-weight:normal;transform:scaleX(0.753);transform-origin:0 0;text-align:left">Projects</div>
<div class="lb" style="left:915.6px;top:449.28px;font-size:8.5px;line-height:1.1;color:#333;font-style:normal;font-weight:normal;transform:scaleX(0.753);transform-origin:0 0;text-align:left">Actual (instances)</div>
<div class="lb" style="left:915.6px;top:462.09px;font-size:8.5px;line-height:1.1;color:#333;font-style:normal;font-weight:normal;transform:scaleX(0.753);transform-origin:0 0;text-align:left">Standards</div>
<div class="lb" style="left:915.6px;top:474.9px;font-size:8.5px;line-height:1.1;color:#333;font-style:normal;font-weight:normal;transform:scaleX(0.753);transform-origin:0 0;text-align:left">Parameters</div>
<div class="lb" style="left:915.6px;top:487.71px;font-size:8.5px;line-height:1.1;color:#333;font-style:normal;font-weight:normal;transform:scaleX(0.753);transform-origin:0 0;text-align:left">Information</div>
<div class="lb" style="left:915.6px;top:500.52px;font-size:8.5px;line-height:1.1;color:#333;font-style:normal;font-weight:normal;transform:scaleX(0.753);transform-origin:0 0;text-align:left">Requirements</div>
<div class="lb" style="left:115.5px;top:81px;font-size:6.5px;line-height:1.17;color:#303030;font-style:normal;font-weight:normal;transform:translateX(-50%) scaleX(0.785);transform-origin:50% 0;text-align:center">Structural or<br>Temporal whole-part</div>
<svg width="1002" height="519" style="position:absolute;left:0;top:0"><path d="M45,113 C48,55 65,26 85,22.5" fill="none" stroke="#222" stroke-width="1"/><path d="M81,19.3 L86.5,22.5 L81.5,25.8 Z" fill="#222"/><path d="M45,113 C46,90 58,70 83,67" fill="none" stroke="#222" stroke-width="1"/><path d="M78.5,63.8 L84,67 L78.5,70.2 Z" fill="#222"/></svg>
<svg width="1002" height="519" style="position:absolute;left:0;top:0"><rect x="504.25" y="453.5" width="73.5" height="18.5" fill="none" stroke="#5B9BD5" stroke-width="1" stroke-dasharray="2.5,1.5"/><path d="M540.5,472.5 L540.5,481.75 L471.25,481.75 L471.25,475" fill="none" stroke="#5B9BD5" stroke-width="1" stroke-dasharray="2.5,1.5"/><path d="M468.5,478.5 L471.25,474.5 L474,478.5" fill="none" stroke="#5B9BD5" stroke-width="1"/></svg>
<svg width="1002" height="519" style="position:absolute;left:0;top:0"><rect x="773.5" y="347.3" width="14.5" height="10.5" rx="2" fill="#fff" stroke="#2E75B6" stroke-width="1.6"/><path d="M773,365.2 L789,365.2" stroke="#2E75B6" stroke-width="1.8"/><path d="M785.5,361.8 L790,365.2 L785.5,368.6" fill="none" stroke="#2E75B6" stroke-width="1.6"/><path d="M773,402 L789,402" stroke="#FF3B3B" stroke-width="1"/><path d="M786,399.5 L790,402 L786,404.5" fill="none" stroke="#FF3B3B" stroke-width="1"/><path d="M777,411.5 A5.2,5.2 0 1 0 783.5,412" fill="none" stroke="#E00000" stroke-width="2"/><path d="M774.5,410 L779,409.2 L777.8,413.8 Z" fill="#E00000"/><rect x="774.5" y="424" width="13.8" height="15.7" rx="1.5" fill="#FBE5D6" stroke="#F4A66A" stroke-width="1"/><rect x="776.8" y="426" width="8.8" height="8.8" rx="1" fill="#99CCFF" stroke="#F4A66A" stroke-width="0.6"/></svg>
<div style="position:absolute;left:897.2px;top:344.60px;width:13.8px;height:11.6px;background:#FFFCC8;border:1px solid #F4A66A;border-radius:2px"></div>
<div style="position:absolute;left:897.2px;top:357.41px;width:13.8px;height:11.6px;background:#CCFF99;border:1px solid #F4A66A;border-radius:2px"></div>
<div style="position:absolute;left:897.2px;top:370.22px;width:13.8px;height:11.6px;background:#99CCFF;border:1px solid #F4A66A;border-radius:2px"></div>
<div style="position:absolute;left:897.2px;top:383.03px;width:13.8px;height:11.6px;background:#FFCCCC;border:1px solid #F4A66A;border-radius:2px"></div>
<div style="position:absolute;left:897.2px;top:395.84px;width:13.8px;height:11.6px;background:#FFCC99;border:1px solid #F4A66A;border-radius:2px"></div>
<div style="position:absolute;left:897.2px;top:408.65px;width:13.8px;height:11.6px;background:#FFFFFF;border:1px solid #F4A66A;border-radius:2px"></div>
<div style="position:absolute;left:897.2px;top:421.46px;width:13.8px;height:11.6px;background:#CCFFFF;border:1px solid #F4A66A;border-radius:2px"></div>
<div style="position:absolute;left:897.2px;top:434.27px;width:13.8px;height:11.6px;background:#CC99FF;border:1px solid #F4A66A;border-radius:2px"></div>
<div style="position:absolute;left:897.2px;top:447.08px;width:13.8px;height:11.6px;background:#595959;border:1px solid #F4A66A;border-radius:2px"></div>
<div style="position:absolute;left:897.2px;top:459.89px;width:13.8px;height:11.6px;background:#CC9900;border:1px solid #F4A66A;border-radius:2px"></div>
<div style="position:absolute;left:897.2px;top:472.70px;width:13.8px;height:11.6px;background:#0066FF;border:1px solid #F4A66A;border-radius:2px"></div>
<div style="position:absolute;left:897.2px;top:485.51px;width:13.8px;height:11.6px;background:#D9D9D9;border:1px solid #F4A66A;border-radius:2px"></div>
<div style="position:absolute;left:897.2px;top:498.32px;width:13.8px;height:11.6px;background:#999999;border:1px solid #F4A66A;border-radius:2px"></div>
<svg width="1002" height="519" style="position:absolute;left:0;top:0"><path d="M36.50,352.20 L26.00,331.00 L43.50,352.20" fill="#FFCCCC" stroke="#F4A66A" stroke-width="1" stroke-linejoin="round"/><path d="M37.30,353.00 L42.70,353.00" stroke="#FFCCCC" stroke-width="2"/><path d="M30.00,323.00 A7.00,7.00 0 1 1 20.04,316.66" fill="none" stroke="#C8107A" stroke-width="2"/><path d="M22.04,315.73 L19.41,320.04 L17.05,314.96 Z" fill="#C8107A"/><path d="M49.00,454.00 L81.00,429.00 L59.00,454.00" fill="#FFCCCC" stroke="#2E75B6" stroke-width="1.6" stroke-linejoin="round"/><path d="M49.80,454.80 L58.20,454.80" stroke="#FFCCCC" stroke-width="2.6"/><path d="M92.50,422.50 A7.00,7.00 0 1 1 82.54,416.16" fill="none" stroke="#C8107A" stroke-width="2"/><path d="M84.54,415.23 L81.91,419.54 L79.55,414.46 Z" fill="#C8107A"/><path d="M355.00,352.90 L366.00,330.00 L362.00,352.90" fill="#99CCFF" stroke="#F4A66A" stroke-width="1" stroke-linejoin="round"/><path d="M355.80,353.70 L361.20,353.70" stroke="#99CCFF" stroke-width="2"/><path d="M364.50,322.00 A7.00,7.00 0 1 0 373.89,315.42" fill="none" stroke="#1F4E79" stroke-width="2"/><path d="M371.83,314.67 L376.73,313.48 L374.82,318.74 Z" fill="#1F4E79"/><path d="M333.00,454.20 L311.00,429.00 L344.00,454.20" fill="#99CCFF" stroke="#F4A66A" stroke-width="1" stroke-linejoin="round"/><path d="M333.80,455.00 L343.20,455.00" stroke="#99CCFF" stroke-width="2"/><path d="M299.50,423.00 A7.00,7.00 0 1 0 308.89,416.42" fill="none" stroke="#1F4E79" stroke-width="2"/><path d="M306.83,415.67 L311.73,414.48 L309.82,419.74 Z" fill="#1F4E79"/><path d="M460.00,352.40 L451.00,330.50 L466.00,352.40" fill="#FFCC99" stroke="#F4A66A" stroke-width="1" stroke-linejoin="round"/><path d="M460.80,353.20 L465.20,353.20" stroke="#FFCC99" stroke-width="2"/><path d="M456.50,321.00 A7.00,7.00 0 1 1 446.54,314.66" fill="none" stroke="#C55A11" stroke-width="2"/><path d="M448.54,313.73 L445.91,318.04 L443.55,312.96 Z" fill="#C55A11"/><path d="M477.50,453.70 L503.50,429.50 L487.50,453.70" fill="#FFCC99" stroke="#F4A66A" stroke-width="1" stroke-linejoin="round"/><path d="M478.30,454.50 L486.70,454.50" stroke="#FFCC99" stroke-width="2"/><path d="M514.75,421.50 A7.00,7.00 0 1 1 504.79,415.16" fill="none" stroke="#C55A11" stroke-width="2"/><path d="M506.79,414.23 L504.16,418.54 L501.80,413.46 Z" fill="#C55A11"/><path d="M522.50,458.00 L552.50,418.00 L530.00,458.00" fill="#FFCC99" stroke="#F4A66A" stroke-width="1" stroke-linejoin="round"/><path d="M523.30,458.80 L529.20,458.80" stroke="#FFCC99" stroke-width="2"/><path d="M561.20,412.00 A5.20,5.20 0 1 1 553.80,407.29" fill="none" stroke="#C55A11" stroke-width="1.8"/><path d="M555.80,406.36 L553.17,410.67 L550.81,405.59 Z" fill="#C55A11"/><path d="M556.00,458.70 L607.00,408.50 L567.50,458.70" fill="#FFFFFF" stroke="#F4A66A" stroke-width="1" stroke-linejoin="round"/><path d="M556.80,459.50 L566.70,459.50" stroke="#FFFFFF" stroke-width="2"/><path d="M615.20,404.50 A5.20,5.20 0 1 1 607.80,399.79" fill="none" stroke="#C55A11" stroke-width="1.8"/><path d="M609.80,398.86 L607.17,403.17 L604.81,398.09 Z" fill="#C55A11"/><path d="M125.90,34.03 A6.50,6.50 0 1 0 135.45,28.06" fill="none" stroke="#C9A227" stroke-width="2"/><path d="M133.51,27.03 L138.53,26.53 L135.90,31.47 Z" fill="#C9A227"/></svg>
<svg width="1002" height="519" style="position:absolute;left:0;top:0"><path d="M737.6,421.8 L751.4,475.1 L759.4,475.1" fill="none" stroke="#555" stroke-width="1"/><path d="M759.5,465.3 L759.5,488.2" stroke="#555" stroke-width="1.2"/></svg>
</body></html>
